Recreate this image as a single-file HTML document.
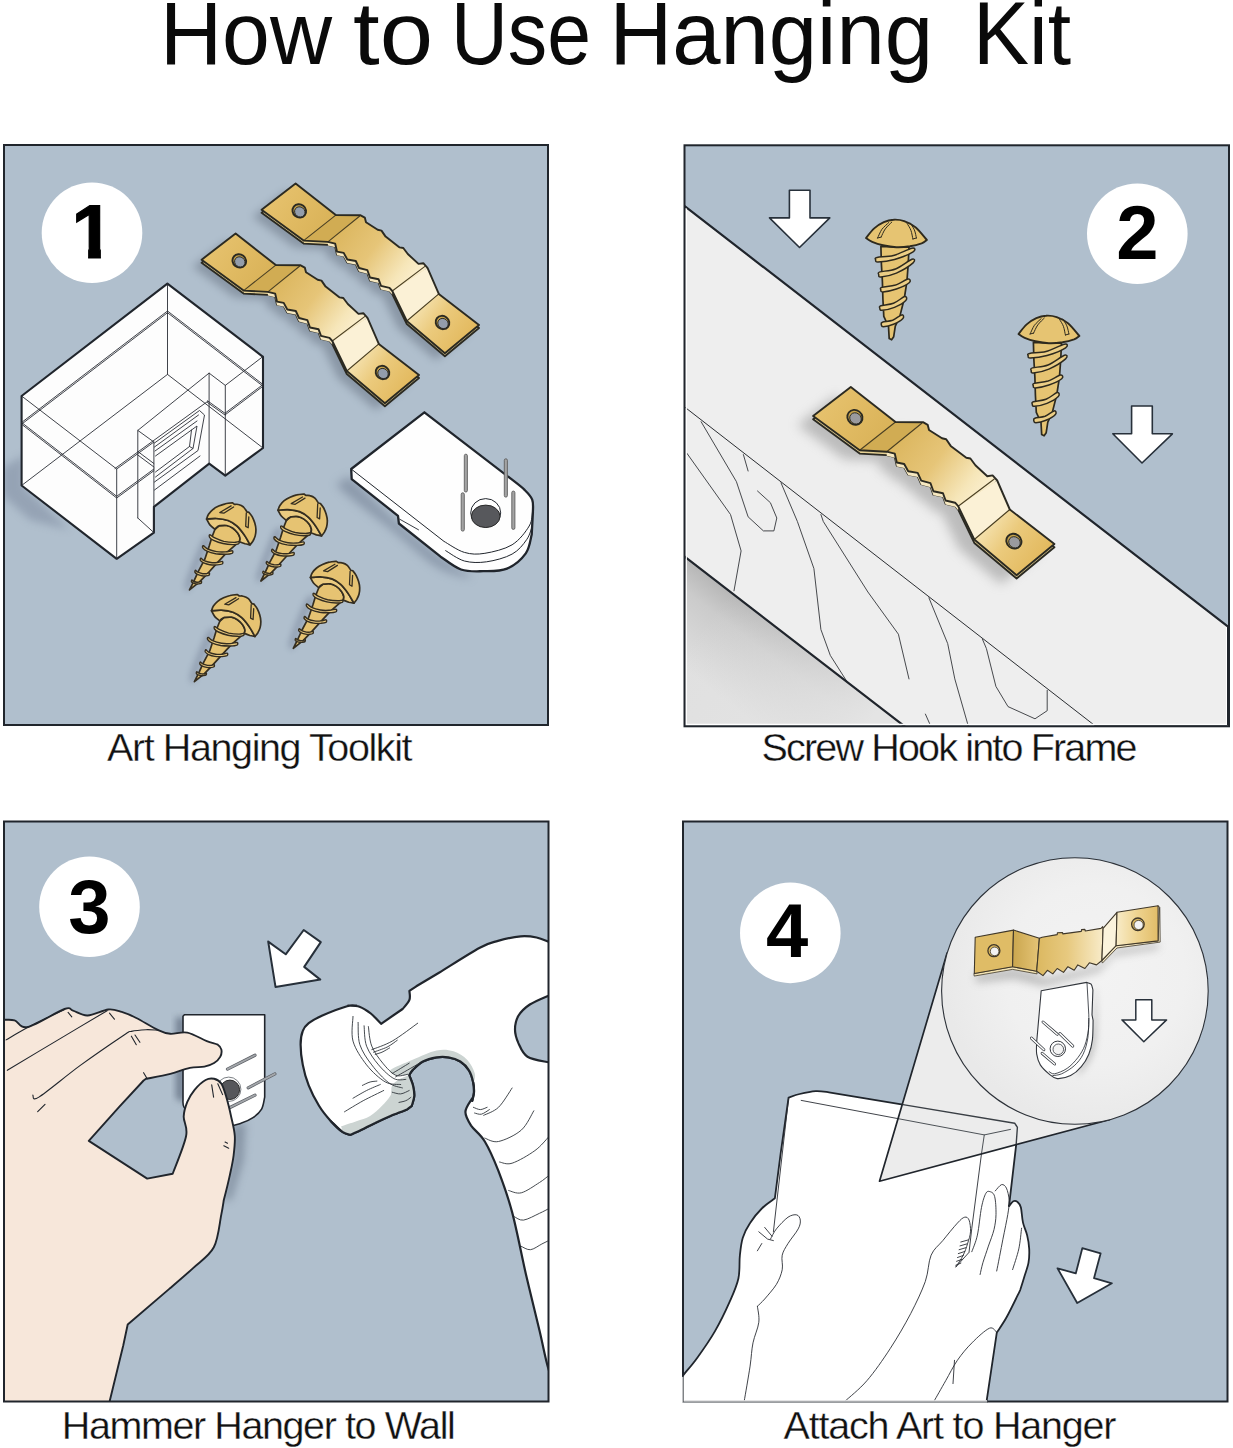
<!DOCTYPE html>
<html lang="en">
<head>
<meta charset="utf-8">
<title>How to Use Hanging Kit</title>
<style>
html,body{margin:0;padding:0;background:#fff;}
body{width:1233px;height:1448px;overflow:hidden;position:relative;font-family:"Liberation Sans",sans-serif;}
svg{position:absolute;left:0;top:0;display:block;}
text{font-family:"Liberation Sans",sans-serif;}
.ttl{font-size:88.5px;fill:#0a0a0a;}
.cap{font-size:39.5px;fill:#111;stroke:#fff;stroke-width:0.35px;}
.num{font-size:76px;font-weight:700;fill:#000;text-anchor:middle;}
.ol{stroke:#22272e;stroke-linejoin:round;stroke-linecap:round;}
</style>
</head>
<body>
<svg width="1233" height="1448" viewBox="0 0 1233 1448">
<defs>
<filter id="blur2" x="-50%" y="-50%" width="200%" height="200%"><feGaussianBlur stdDeviation="2"/></filter><filter id="blur3" x="-50%" y="-50%" width="200%" height="200%"><feGaussianBlur stdDeviation="3"/></filter><filter id="blur4" x="-50%" y="-50%" width="200%" height="200%"><feGaussianBlur stdDeviation="4"/></filter><filter id="blur5" x="-50%" y="-50%" width="200%" height="200%"><feGaussianBlur stdDeviation="5"/></filter><filter id="blur6" x="-50%" y="-50%" width="200%" height="200%"><feGaussianBlur stdDeviation="6"/></filter><filter id="blur8" x="-50%" y="-50%" width="200%" height="200%"><feGaussianBlur stdDeviation="8"/></filter><filter id="blur10" x="-50%" y="-50%" width="200%" height="200%"><feGaussianBlur stdDeviation="10"/></filter>
<linearGradient id="h_tl" gradientUnits="userSpaceOnUse" x1="270" y1="195" x2="325" y2="235"><stop offset="0" stop-color="#e6c26e"/><stop offset="0.5" stop-color="#e0ba62"/><stop offset="1" stop-color="#d9b258"/></linearGradient>
<linearGradient id="h_bd" gradientUnits="userSpaceOnUse" x1="335" y1="225" x2="415" y2="285"><stop offset="0" stop-color="#dab45b"/><stop offset="0.45" stop-color="#e6c578"/><stop offset="0.8" stop-color="#f6e6b9"/><stop offset="1" stop-color="#fbf0d2"/></linearGradient>
<linearGradient id="h_tr" gradientUnits="userSpaceOnUse" x1="415" y1="300" x2="470" y2="340"><stop offset="0" stop-color="#f7e7ba"/><stop offset="0.45" stop-color="#ebca7c"/><stop offset="1" stop-color="#e2b85c"/></linearGradient>
<linearGradient id="hb_tl" gradientUnits="userSpaceOnUse" x1="210" y1="245" x2="265" y2="285"><stop offset="0" stop-color="#e6c26e"/><stop offset="0.5" stop-color="#e0ba62"/><stop offset="1" stop-color="#d9b258"/></linearGradient>
<linearGradient id="hb_bd" gradientUnits="userSpaceOnUse" x1="275" y1="275" x2="355" y2="335"><stop offset="0" stop-color="#dab45b"/><stop offset="0.45" stop-color="#e6c578"/><stop offset="0.8" stop-color="#f6e6b9"/><stop offset="1" stop-color="#fbf0d2"/></linearGradient>
<linearGradient id="hb_tr" gradientUnits="userSpaceOnUse" x1="355" y1="350" x2="410" y2="390"><stop offset="0" stop-color="#f7e7ba"/><stop offset="0.45" stop-color="#ebca7c"/><stop offset="1" stop-color="#e2b85c"/></linearGradient>
<linearGradient id="h2_tl" gradientUnits="userSpaceOnUse" x1="822.4" y1="399.7" x2="883.5" y2="444.1"><stop offset="0" stop-color="#e6c26e"/><stop offset="0.5" stop-color="#e0ba62"/><stop offset="1" stop-color="#d9b258"/></linearGradient>
<linearGradient id="h2_bd" gradientUnits="userSpaceOnUse" x1="894.6" y1="433" x2="983.4" y2="499.6"><stop offset="0" stop-color="#dab45b"/><stop offset="0.45" stop-color="#e6c578"/><stop offset="0.8" stop-color="#f6e6b9"/><stop offset="1" stop-color="#fbf0d2"/></linearGradient>
<linearGradient id="h2_tr" gradientUnits="userSpaceOnUse" x1="983.4" y1="516.2" x2="1044.4" y2="560.6"><stop offset="0" stop-color="#f7e7ba"/><stop offset="0.45" stop-color="#ebca7c"/><stop offset="1" stop-color="#e2b85c"/></linearGradient><linearGradient id="fr_g" gradientUnits="userSpaceOnUse" x1="800" y1="645" x2="745" y2="716"><stop offset="0" stop-color="#b6b6b6"/><stop offset="0.3" stop-color="#cbcbcb"/><stop offset="1" stop-color="#e0e0e0"/></linearGradient><linearGradient id="fr_g2" gradientUnits="userSpaceOnUse" x1="730" y1="592" x2="880" y2="708"><stop offset="0" stop-color="#e4e4e4" stop-opacity="0"/><stop offset="1" stop-color="#e4e4e4" stop-opacity="1"/></linearGradient>
<clipPath id="conecl"><path d="M879.5 1181.2 L947.1 953.1 L1074.9 991 L1109.3 1119.8Z" fill="none"/></clipPath>
<linearGradient id="h4a" gradientUnits="userSpaceOnUse" x1="1013.5" y1="0" x2="1038.5" y2="0"><stop offset="0" stop-color="#cba74f"/><stop offset="1" stop-color="#e4c375"/></linearGradient>
<linearGradient id="h4b" gradientUnits="userSpaceOnUse" x1="1038.5" y1="0" x2="1102.7" y2="0"><stop offset="0" stop-color="#dcb962"/><stop offset="0.45" stop-color="#e7c97f"/><stop offset="1" stop-color="#f8ebc8"/></linearGradient>
<linearGradient id="h4c" gradientUnits="userSpaceOnUse" x1="1117" y1="0" x2="1158.1" y2="0"><stop offset="0" stop-color="#f8ebc6"/><stop offset="0.5" stop-color="#eed38f"/><stop offset="1" stop-color="#e2bd68"/></linearGradient>
<radialGradient id="circ4" gradientUnits="userSpaceOnUse" cx="1095" cy="975" r="150"><stop offset="0" stop-color="#f3f3f3"/><stop offset="0.6" stop-color="#f0f0f0"/><stop offset="1" stop-color="#e9e9e9"/></radialGradient>
<clipPath id="one"><path d="M60 190 H100.9 V262 H88.1 V247 H60 Z"/></clipPath>
<clipPath id="c1"><rect x="4" y="145" width="544" height="580"/></clipPath>
<clipPath id="c2"><rect x="684.5" y="145" width="544" height="580.5"/></clipPath>
<clipPath id="c3"><rect x="4" y="821.5" width="544.5" height="580"/></clipPath>
<clipPath id="c4"><rect x="683" y="821.5" width="544.5" height="580"/></clipPath>
</defs>

<!-- TITLE -->
<g class="ttl">
<text y="63.8"><tspan x="160" textLength="172" lengthAdjust="spacingAndGlyphs">How</tspan> <tspan x="353" textLength="80" lengthAdjust="spacingAndGlyphs">to</tspan> <tspan x="451" textLength="140" lengthAdjust="spacingAndGlyphs">Use</tspan> <tspan x="609.5" textLength="323.5" lengthAdjust="spacingAndGlyphs">Hanging</tspan> <tspan x="973" textLength="98" lengthAdjust="spacingAndGlyphs">Kit</tspan></text>
</g>

<!-- PANEL 1 -->
<g id="p1">
<rect x="4" y="145" width="544" height="580" fill="#b0bfcd"/>
<g clip-path="url(#c1)" id="p1art">
<g filter="url(#blur4)" opacity="0.45"><path d="M192.6 266.7 L226.6 240.5 L266.8 272.1 L291.6 272.3 L295.8 274.6 L297 279.3 L308.7 286.8 L312.5 287.6 L316.6 293.6 L330.6 304.4 L334.3 305 L338.8 311 L349.5 320.9 L354.3 320.2 L358.5 324.8 L369.8 350.9 L410 382 L375.9 410.2 L337.8 378 L323.3 348 L320.5 344.8 L312 342.8 L309.6 336.3 L301 334.5 L298.4 327.2 L290 325 L286.8 318 L278.3 316.5 L274.7 309.9 L268 308.6 L266.2 300.7 L258.9 298.9 L234.6 297.6Z" fill="#5b6676"/></g>
<path d="M201.6 262.7 L235.6 236.5 L275.8 268.1 L300.6 268.3 L304.8 270.6 L306 275.3 L317.7 282.8 L321.5 283.6 L325.6 289.6 L339.6 300.4 L343.3 301 L347.8 307 L358.5 316.9 L363.3 316.2 L367.5 320.8 L378.8 346.9 L419 378 L384.9 406.2 L346.8 374 L332.3 344 L329.5 340.8 L321 338.8 L318.6 332.3 L310 330.5 L307.4 323.2 L299 321 L295.8 314 L287.3 312.5 L283.7 305.9 L277 304.6 L275.2 296.7 L267.9 294.9 L243.6 293.6Z" fill="#e6d194" stroke="#2b2a22" stroke-width="1.9" stroke-linejoin="round" stroke-linecap="round"/>
<path d="M267.9 295.5 L275.2 297.3 L277 305.2 L283.7 306.5 L287.3 313.1 L295.8 314.6 L299 321.6 L307.4 323.8 L310 331.1 L318.6 332.9 L321 339.4 L329.5 341.4 L332.3 344.6 L332.3 340 L329.5 336.8 L321 334.8 L318.6 328.3 L310 326.5 L307.4 319.2 L299 317 L295.8 310 L287.3 308.5 L283.7 301.9 L277 300.6 L275.2 292.7 L267.9 290.9Z" fill="#f6e8c0"/>
<path d="M201.6 259.7 L235.6 233.5 L275.8 265.1 L243.6 290.6Z" fill="url(#hb_tl)"/>
<path d="M243.6 290.6 L275.8 265.1 L300.6 265.3 L267.9 291.9Z" fill="#d1ac53"/>
<path d="M267.9 291.9 L300.6 265.3 L304.8 267.6 L306 272.3 L317.7 279.8 L321.5 280.6 L325.6 286.6 L339.6 297.4 L343.3 298 L347.8 304 L358.5 313.9 L363.3 313.2 L367.5 317.8 L332.3 341 L329.5 337.8 L321 335.8 L318.6 329.3 L310 327.5 L307.4 320.2 L299 318 L295.8 311 L287.3 309.5 L283.7 302.9 L277 301.6 L275.2 293.7 L267.9 291.9Z" fill="url(#hb_bd)"/>
<path d="M332.3 341 L367.5 317.8 L378.8 343.9 L346.8 371Z" fill="#fbf1d6"/>
<path d="M346.8 371 L378.8 343.9 L419 375 L384.9 403.2Z" fill="url(#hb_tr)"/>
<path d="M275.8 265.1 L243.6 290.6" fill="none" stroke="#4a3f22" stroke-width="1.1" stroke-linejoin="round" stroke-linecap="round"/>
<path d="M299.5 266.2 L267.9 291.9" fill="none" stroke="#4a3f22" stroke-width="1.1" stroke-linejoin="round" stroke-linecap="round"/>
<path d="M364.6 316.6 L332.3 341" fill="none" stroke="#4a3f22" stroke-width="1.1" stroke-linejoin="round" stroke-linecap="round"/>
<path d="M378.8 343.9 L346.8 371" fill="none" stroke="#4a3f22" stroke-width="1.1" stroke-linejoin="round" stroke-linecap="round"/>
<path d="M201.6 259.7 L235.6 233.5 L275.8 265.1 L300.6 265.3 L304.8 267.6 L306 272.3 L317.7 279.8 L321.5 280.6 L325.6 286.6 L339.6 297.4 L343.3 298 L347.8 304 L358.5 313.9 L363.3 313.2 L367.5 317.8 L378.8 343.9 L419 375 L384.9 403.2 L346.8 371 L332.3 341 L329.5 337.8 L321 335.8 L318.6 329.3 L310 327.5 L307.4 320.2 L299 318 L295.8 311 L287.3 309.5 L283.7 302.9 L277 301.6 L275.2 293.7 L267.9 291.9 L243.6 290.6Z" fill="none" stroke="#2b2a22" stroke-width="1.9" stroke-linejoin="round" stroke-linecap="round"/>
<ellipse cx="239.3" cy="260.9" rx="7" ry="6.5" fill="#c7a34b" stroke="#2b2a22" stroke-width="1.9" transform="rotate(38 239.3 260.9)"/>
<ellipse cx="239.8" cy="261.9" rx="5.4" ry="4.9" fill="#939dab" stroke="#2b2a22" stroke-width="0.9" transform="rotate(38 239.8 261.9)"/>
<ellipse cx="382.5" cy="372.5" rx="7" ry="6.5" fill="#c7a34b" stroke="#2b2a22" stroke-width="1.9" transform="rotate(38 382.5 372.5)"/>
<ellipse cx="383" cy="373.5" rx="5.4" ry="4.9" fill="#939dab" stroke="#2b2a22" stroke-width="0.9" transform="rotate(38 383 373.5)"/>
<g filter="url(#blur4)" opacity="0.45"><path d="M252.6 216.7 L286.6 190.5 L326.8 222.1 L351.6 222.3 L355.8 224.6 L357 229.3 L368.7 236.8 L372.5 237.6 L376.6 243.6 L390.6 254.4 L394.3 255 L398.8 261 L409.5 270.9 L414.3 270.2 L418.5 274.8 L429.8 300.9 L470 332 L435.9 360.2 L397.8 328 L383.3 298 L380.5 294.8 L372 292.8 L369.6 286.3 L361 284.5 L358.4 277.2 L350 275 L346.8 268 L338.3 266.5 L334.7 259.9 L328 258.6 L326.2 250.7 L318.9 248.9 L294.6 247.6Z" fill="#5b6676"/></g>
<path d="M261.6 212.7 L295.6 186.5 L335.8 218.1 L360.6 218.3 L364.8 220.6 L366 225.3 L377.7 232.8 L381.5 233.6 L385.6 239.6 L399.6 250.4 L403.3 251 L407.8 257 L418.5 266.9 L423.3 266.2 L427.5 270.8 L438.8 296.9 L479 328 L444.9 356.2 L406.8 324 L392.3 294 L389.5 290.8 L381 288.8 L378.6 282.3 L370 280.5 L367.4 273.2 L359 271 L355.8 264 L347.3 262.5 L343.7 255.9 L337 254.6 L335.2 246.7 L327.9 244.9 L303.6 243.6Z" fill="#e6d194" stroke="#2b2a22" stroke-width="1.9" stroke-linejoin="round" stroke-linecap="round"/>
<path d="M327.9 245.5 L335.2 247.3 L337 255.2 L343.7 256.5 L347.3 263.1 L355.8 264.6 L359 271.6 L367.4 273.8 L370 281.1 L378.6 282.9 L381 289.4 L389.5 291.4 L392.3 294.6 L392.3 290 L389.5 286.8 L381 284.8 L378.6 278.3 L370 276.5 L367.4 269.2 L359 267 L355.8 260 L347.3 258.5 L343.7 251.9 L337 250.6 L335.2 242.7 L327.9 240.9Z" fill="#f6e8c0"/>
<path d="M261.6 209.7 L295.6 183.5 L335.8 215.1 L303.6 240.6Z" fill="url(#h_tl)"/>
<path d="M303.6 240.6 L335.8 215.1 L360.6 215.3 L327.9 241.9Z" fill="#d1ac53"/>
<path d="M327.9 241.9 L360.6 215.3 L364.8 217.6 L366 222.3 L377.7 229.8 L381.5 230.6 L385.6 236.6 L399.6 247.4 L403.3 248 L407.8 254 L418.5 263.9 L423.3 263.2 L427.5 267.8 L392.3 291 L389.5 287.8 L381 285.8 L378.6 279.3 L370 277.5 L367.4 270.2 L359 268 L355.8 261 L347.3 259.5 L343.7 252.9 L337 251.6 L335.2 243.7 L327.9 241.9Z" fill="url(#h_bd)"/>
<path d="M392.3 291 L427.5 267.8 L438.8 293.9 L406.8 321Z" fill="#fbf1d6"/>
<path d="M406.8 321 L438.8 293.9 L479 325 L444.9 353.2Z" fill="url(#h_tr)"/>
<path d="M335.8 215.1 L303.6 240.6" fill="none" stroke="#4a3f22" stroke-width="1.1" stroke-linejoin="round" stroke-linecap="round"/>
<path d="M359.5 216.2 L327.9 241.9" fill="none" stroke="#4a3f22" stroke-width="1.1" stroke-linejoin="round" stroke-linecap="round"/>
<path d="M424.6 266.6 L392.3 291" fill="none" stroke="#4a3f22" stroke-width="1.1" stroke-linejoin="round" stroke-linecap="round"/>
<path d="M438.8 293.9 L406.8 321" fill="none" stroke="#4a3f22" stroke-width="1.1" stroke-linejoin="round" stroke-linecap="round"/>
<path d="M261.6 209.7 L295.6 183.5 L335.8 215.1 L360.6 215.3 L364.8 217.6 L366 222.3 L377.7 229.8 L381.5 230.6 L385.6 236.6 L399.6 247.4 L403.3 248 L407.8 254 L418.5 263.9 L423.3 263.2 L427.5 267.8 L438.8 293.9 L479 325 L444.9 353.2 L406.8 321 L392.3 291 L389.5 287.8 L381 285.8 L378.6 279.3 L370 277.5 L367.4 270.2 L359 268 L355.8 261 L347.3 259.5 L343.7 252.9 L337 251.6 L335.2 243.7 L327.9 241.9 L303.6 240.6Z" fill="none" stroke="#2b2a22" stroke-width="1.9" stroke-linejoin="round" stroke-linecap="round"/>
<ellipse cx="299.3" cy="210.9" rx="7" ry="6.5" fill="#c7a34b" stroke="#2b2a22" stroke-width="1.9" transform="rotate(38 299.3 210.9)"/>
<ellipse cx="299.8" cy="211.9" rx="5.4" ry="4.9" fill="#939dab" stroke="#2b2a22" stroke-width="0.9" transform="rotate(38 299.8 211.9)"/>
<ellipse cx="442.5" cy="322.5" rx="7" ry="6.5" fill="#c7a34b" stroke="#2b2a22" stroke-width="1.9" transform="rotate(38 442.5 322.5)"/>
<ellipse cx="443" cy="323.5" rx="5.4" ry="4.9" fill="#939dab" stroke="#2b2a22" stroke-width="0.9" transform="rotate(38 443 323.5)"/>
<g filter="url(#blur4)" opacity="0.36"><path d="M24 455 L2 468 L2 495 L30 520 L70 530 L24 487Z" fill="#66728a"/></g>
<path d="M167.4 283.6 L263 356.8 L263 448 L225.3 475.6 L209.2 463.7 L153.9 506.8 L153.9 532.6 L116.7 558.8 L21.6 485.5 L21.6 396Z" fill="#fdfdfd" stroke="#20252c" stroke-width="2.1" stroke-linejoin="round" stroke-linecap="round"/>
<path d="M21.6 396 L116.7 469 L116.7 558.8 M116.7 469 L153.9 442 M137.8 430.4 L153.9 442 L153.9 532.6 M137.8 518 L137.8 430.4 L209.1 373.1 L225.3 385.4 L225.3 475.6 M137.8 518 L153.9 532.6 M209.1 373.1 L209.1 463.9 M225.3 385.4 L263 356.5 M167.5 283.6 L167.5 374.4 M21.6 485.5 L167.5 374.4 L263 448 M21.6 422.5 L167.5 311 L263 384.5 M21.6 422.5 L116.7 496.3 L153.9 469 M225.3 413 L263 384.5 M207.5 400.8 L225.3 413.5 M21.6 424.2 L167.5 312.7 L263 386.2 M21.6 424.2 L116.7 498 L153.9 470.7 M225.3 414.7 L263 386.2 M207.5 402.5 L225.3 415.2 M115 468.5 L207.5 401.5 M137.8 451.5 L153.9 463.5 M137.8 455 L153.9 467 M154.5 443 L199.5 410.5 L204.5 415 L198 450.5 L154.5 482 M154.5 447 L198.5 415 M155 451 L197 421 M155.5 456 L191.5 430 L197 426 L193 448.5 L189.5 446.5 L191.5 430 M155.5 472 L189.5 446.5 M155.5 477 L193 448.5 M154.5 490 L200 456" fill="none" stroke="#2a2e35" stroke-width="0.9" stroke-linejoin="round" stroke-linecap="round"/>
<g filter="url(#blur5)" opacity="0.5"><path d="M345.2 480.1 C343.3 481.6 332.4 480.3 340.1 488.6 C347.8 496.8 375 516.4 391.2 529.4 C407.4 542.5 423.9 559 437.2 566.9 C450.5 574.9 470.7 578.8 471.3 577.1 C471.8 575.4 452.7 565.6 440.6 556.7 C428.5 547.8 413.7 536.4 398.9 523.5 C384.1 510.6 360.6 486.4 351.7 479.2 C342.7 472 347.2 478.5 345.2 480.1Z" fill="#67748a"/></g>
<path d="M351.2 469 L424.4 412.3 L510.4 478.4 C512.7 480.2 520.4 485.9 524.1 489.4 C527.7 493 530.8 495.8 532.2 499.6 C533.7 503.5 532.8 510.3 532.9 512.4 L531.7 534.6 C530.7 537.7 529.9 547.6 525.8 553.3 C521.7 559 514.1 565.6 507 568.6 C499.9 571.6 490.9 571 483.2 571.2 C475.5 571.3 468.1 571.9 461 569.5 C453.9 567.1 444 558.8 440.6 556.7 L398.9 523.5 L398 515.8 L351.7 479.2Z" fill="#fefefe" stroke="#20252c" stroke-width="2.3" stroke-linejoin="round" stroke-linecap="round"/>
<path d="M351.2 469 L444 541.4 C447.4 543.2 457.6 550.5 464.4 552.4 C471.3 554.4 476.9 554.6 484.9 553.3 C492.8 552 504.8 549.3 512.1 544.8 C519.5 540.2 525.8 531.7 529.2 526 C532.6 520.4 532 513.3 532.6 510.7" fill="none" stroke="#20252c" stroke-width="1" stroke-linejoin="round" stroke-linecap="round"/>
<path d="M445.7 550.7 C448.8 552.4 457.6 559.1 464.4 561 C471.3 562.8 478.6 562.9 486.6 561.8 C494.5 560.7 505.5 557.8 512.1 554.1 C518.8 550.5 523.3 544.4 526.6 539.7 C530 535 531.3 528.3 532.2 526" fill="none" stroke="#20252c" stroke-width="1" stroke-linejoin="round" stroke-linecap="round"/>
<path d="M399.7 519.2 L418.5 529.8" fill="none" stroke="#20252c" stroke-width="0.9" stroke-linejoin="round" stroke-linecap="round"/>
<ellipse cx="485.7" cy="512.9" rx="15" ry="14.3" fill="#fff" stroke="#20252c" stroke-width="1"/>
<ellipse cx="485.7" cy="516.3" rx="14.3" ry="11.2" fill="#57585c" stroke="#2a2a2a" stroke-width="1"/>
<rect x="464.3" y="454.2" width="3.1" height="37.8" rx="1.5" fill="#a4a4a4" stroke="#5f5f5f" stroke-width="0.9"/>
<rect x="461.2" y="492.8" width="3.1" height="38.3" rx="1.5" fill="#a4a4a4" stroke="#5f5f5f" stroke-width="0.9"/>
<rect x="504.3" y="458.8" width="3.1" height="38.3" rx="1.5" fill="#a4a4a4" stroke="#5f5f5f" stroke-width="0.9"/>
<rect x="511.8" y="491.1" width="3.1" height="38.3" rx="1.5" fill="#a4a4a4" stroke="#5f5f5f" stroke-width="0.9"/>
<g filter="url(#blur3)" opacity="0.45"><path d="M204.1 538.8 C201.8 541.2 199.2 547.9 196.8 553.4 C194.4 558.9 191.4 566.2 189.5 571.6 C187.5 577.1 185.2 583.1 185.1 586.2 C185 589.4 187.3 593.1 189.1 590.6 C190.9 588.2 193.6 577.8 196.1 571.6 C198.6 565.4 201.7 558.9 204.1 553.4 C206.5 547.9 210.7 541.2 210.7 538.8 C210.7 536.4 206.4 536.4 204.1 538.8Z" fill="#66728a"/></g>
<path d="M215 529.3 L219.4 525.7 C220.6 525.6 224.5 525.1 226.7 525.5 C228.9 525.9 230.7 526.8 232.6 528 C234.4 529.2 236.4 531.3 237.7 533 C238.9 534.6 239.6 537.2 240 538.1 L239.5 541.7 L238.4 542.4 L226.7 552.7 L217.2 562.9 L207 574.2 L199.3 582.2 L189.5 589.9 L193.9 581.1 L198.2 571.6 L204.8 559.2 L209.2 546.1 L212.1 536.6Z" fill="#e6c372" stroke="#352e20" stroke-width="1.7" stroke-linejoin="round" stroke-linecap="round"/>
<path d="M209.9 534.8 C210.7 534.8 212 536.6 214.3 537.7 C216.6 538.8 220.5 540.6 223.8 541.4 C227.1 542.1 231.5 542.4 234 542.4 C236.5 542.5 238 541.5 238.8 541.7 C239.5 542 239.4 543.4 238.4 543.9 C237.4 544.4 235.1 544.7 232.6 544.6 C230 544.6 226.2 544.3 223.1 543.5 C219.9 542.8 215.8 541.3 213.6 540.3 C211.3 539.2 210.2 538.2 209.6 537.3 C209 536.4 209.1 534.7 209.9 534.8Z" fill="#ebcb80" stroke="#352e20" stroke-width="1.4" stroke-linejoin="round" stroke-linecap="round"/>
<path d="M203.4 545.7 C204.2 545.9 205.5 548 207.7 549 C209.9 550 213.6 551.1 216.5 551.6 C219.4 552.1 222.6 552.1 225.3 551.9 C227.9 551.8 231.1 550.6 232.2 550.8 C233.3 551.1 233.1 552.8 232 553.4 C230.8 554 228 554.2 225.3 554.3 C222.6 554.3 218.8 554.3 215.8 553.8 C212.7 553.2 209.2 552.2 207 551.2 C204.8 550.2 203.4 548.8 202.8 547.9 C202.2 547 202.5 545.5 203.4 545.7Z" fill="#ebcb80" stroke="#352e20" stroke-width="1.4" stroke-linejoin="round" stroke-linecap="round"/>
<path d="M201 558.1 C201.6 558.2 202.5 560 204.1 560.7 C205.7 561.4 208.5 562.2 210.7 562.5 C212.8 562.8 215.3 562.7 217.2 562.5 C219.2 562.3 221.5 561.2 222.3 561.4 C223.2 561.7 223 563.4 222.1 564 C221.3 564.5 219.3 564.7 217.2 564.9 C215.2 565 212.2 565 209.9 564.7 C207.7 564.4 205.3 563.6 203.7 562.9 C202.1 562.2 200.9 561.1 200.4 560.3 C200 559.5 200.4 558.1 201 558.1Z" fill="#ebcb80" stroke="#352e20" stroke-width="1.4" stroke-linejoin="round" stroke-linecap="round"/>
<path d="M195.5 570.3 C196 570.3 196.7 571.7 197.9 572.2 C199.1 572.8 201.2 573.4 202.6 573.7 C204.1 573.9 205.5 573.8 206.6 573.7 C207.8 573.6 208.9 572.7 209.3 573 C209.7 573.2 209.6 574.7 209.1 575.1 C208.5 575.6 207.1 575.8 205.9 575.9 C204.7 576 203.3 576 201.9 575.7 C200.5 575.5 198.7 575 197.5 574.4 C196.4 573.9 195.3 573.1 195 572.4 C194.6 571.7 195 570.4 195.5 570.3Z" fill="#ebcb80" stroke="#352e20" stroke-width="1.4" stroke-linejoin="round" stroke-linecap="round"/>
<path d="M191.9 580 C192.3 580 193.1 581.1 193.9 581.5 C194.7 581.9 195.9 582.1 196.8 582.2 C197.7 582.3 198.6 582.2 199.3 582.1 C200.1 581.9 201.1 581.1 201.4 581.3 C201.7 581.5 201.6 582.7 201.2 583.2 C200.7 583.6 199.5 583.8 198.6 583.9 C197.8 584 196.9 584 196.1 583.9 C195.2 583.8 194.3 583.5 193.5 583.2 C192.7 582.8 191.8 582.4 191.5 581.9 C191.3 581.3 191.5 580.1 191.9 580Z" fill="#ebcb80" stroke="#352e20" stroke-width="1.4" stroke-linejoin="round" stroke-linecap="round"/>
<path d="M206.6 519.1 C208.3 519 212.9 518.3 216.5 518.5 C220.1 518.7 224.8 519.3 228.2 520.5 C231.6 521.8 234.3 523.6 236.9 526 C239.6 528.4 242 531.7 244.2 534.8 C246.4 537.9 249.1 543.1 250.1 544.8 C249.2 544.6 246.7 544.3 245 543.8 C243.2 543.2 240.4 542.1 239.5 541.7 C239.6 541.1 240.3 539.5 240 538.1 C239.7 536.6 238.9 534.6 237.7 533 C236.4 531.3 234.4 529.2 232.6 528 C230.7 526.8 228.9 525.9 226.7 525.5 C224.5 525.1 220.6 525.6 219.4 525.7 C219 525.9 217.6 526.5 216.9 527.1 C216.1 527.7 215.3 528.9 215 529.3 C214.2 528.6 211.3 526.6 209.9 524.9 C208.5 523.2 207.2 520.1 206.6 519.1Z" fill="#ebcb80" stroke="#352e20" stroke-width="1.7" stroke-linejoin="round" stroke-linecap="round"/>
<path d="M206.6 519.1 C206.9 518.3 207.4 515.9 208.5 514.3 C209.5 512.8 211.1 511 212.8 509.6 C214.5 508.2 216.6 507.1 218.7 506.1 C220.8 505.1 222.9 504.3 225.3 503.8 C227.6 503.2 231.3 503 232.6 502.9 L234.4 504.3 C235 504.4 236.9 504 238.4 504.5 C239.9 504.9 242.1 505.8 243.5 507 C244.9 508.3 246.4 511.1 247 511.9 L249 512.4 C249.5 513.1 251.3 515.1 252.3 516.9 C253.2 518.7 254.2 521 254.8 523.1 C255.4 525.2 255.9 527.2 255.9 529.3 C256 531.4 255.7 533.9 255.2 535.9 C254.7 537.8 253.8 539.5 253 541 C252.1 542.5 250.6 544.1 250.1 544.8 C249.1 543.1 246.4 537.9 244.2 534.8 C242 531.7 239.6 528.4 236.9 526 C234.3 523.6 231.6 521.8 228.2 520.5 C224.8 519.3 220.1 518.7 216.5 518.5 C212.9 518.3 208.3 519 206.6 519.1Z" fill="#e6c372" stroke="#352e20" stroke-width="1.7" stroke-linejoin="round" stroke-linecap="round"/>
<path d="M231.1 505.9 L219.8 512.5 L223.8 513.2 L233.6 507" fill="none" stroke="#352e20" stroke-width="1.3" stroke-linejoin="round" stroke-linecap="round"/>
<path d="M246.3 512.9 L245.7 526.4 L248.2 527.8 L248.8 516.9" fill="none" stroke="#352e20" stroke-width="1.3" stroke-linejoin="round" stroke-linecap="round"/>
<g filter="url(#blur3)" opacity="0.45"><path d="M275.5 529.9 C273.2 532.3 270.6 539 268.2 544.5 C265.8 550 262.8 557.3 260.9 562.7 C258.9 568.2 256.6 574.2 256.5 577.3 C256.4 580.5 258.7 584.2 260.5 581.7 C262.3 579.3 265 568.9 267.5 562.7 C270 556.5 273.1 550 275.5 544.5 C277.9 539 282.1 532.3 282.1 529.9 C282.1 527.5 277.8 527.5 275.5 529.9Z" fill="#66728a"/></g>
<path d="M286.4 520.4 L290.8 516.8 C292 516.7 295.9 516.2 298.1 516.6 C300.3 517 302.1 517.9 304 519.1 C305.8 520.3 307.8 522.4 309.1 524.1 C310.3 525.7 311 528.3 311.4 529.2 L310.9 532.8 L309.8 533.5 L298.1 543.8 L288.6 554 L278.4 565.3 L270.7 573.3 L260.9 581 L265.3 572.2 L269.6 562.7 L276.2 550.3 L280.6 537.2 L283.5 527.7Z" fill="#e6c372" stroke="#352e20" stroke-width="1.7" stroke-linejoin="round" stroke-linecap="round"/>
<path d="M281.3 525.9 C282.1 525.9 283.4 527.7 285.7 528.8 C288 529.9 291.9 531.7 295.2 532.5 C298.5 533.2 302.9 533.5 305.4 533.5 C307.9 533.6 309.4 532.6 310.2 532.8 C310.9 533.1 310.8 534.5 309.8 535 C308.8 535.5 306.5 535.8 304 535.7 C301.4 535.7 297.6 535.4 294.5 534.6 C291.3 533.9 287.2 532.4 285 531.4 C282.7 530.3 281.6 529.3 281 528.4 C280.4 527.5 280.5 525.8 281.3 525.9Z" fill="#ebcb80" stroke="#352e20" stroke-width="1.4" stroke-linejoin="round" stroke-linecap="round"/>
<path d="M274.8 536.8 C275.6 537 276.9 539.1 279.1 540.1 C281.3 541.1 285 542.2 287.9 542.7 C290.8 543.2 294 543.2 296.7 543 C299.3 542.9 302.5 541.7 303.6 541.9 C304.7 542.2 304.5 543.9 303.4 544.5 C302.2 545.1 299.4 545.3 296.7 545.4 C294 545.4 290.2 545.4 287.2 544.9 C284.1 544.3 280.6 543.3 278.4 542.3 C276.2 541.3 274.8 539.9 274.2 539 C273.6 538.1 273.9 536.6 274.8 536.8Z" fill="#ebcb80" stroke="#352e20" stroke-width="1.4" stroke-linejoin="round" stroke-linecap="round"/>
<path d="M272.4 549.2 C273 549.3 273.9 551.1 275.5 551.8 C277.1 552.5 279.9 553.3 282.1 553.6 C284.2 553.9 286.7 553.8 288.6 553.6 C290.6 553.4 292.9 552.3 293.7 552.5 C294.6 552.8 294.4 554.5 293.5 555.1 C292.7 555.6 290.7 555.8 288.6 556 C286.6 556.1 283.6 556.1 281.3 555.8 C279.1 555.5 276.7 554.7 275.1 554 C273.5 553.3 272.3 552.2 271.8 551.4 C271.4 550.6 271.8 549.2 272.4 549.2Z" fill="#ebcb80" stroke="#352e20" stroke-width="1.4" stroke-linejoin="round" stroke-linecap="round"/>
<path d="M266.9 561.4 C267.4 561.4 268.1 562.8 269.3 563.3 C270.5 563.9 272.6 564.5 274 564.8 C275.5 565 276.9 564.9 278 564.8 C279.2 564.7 280.3 563.8 280.7 564.1 C281.1 564.3 281 565.8 280.5 566.2 C279.9 566.7 278.5 566.9 277.3 567 C276.1 567.1 274.7 567.1 273.3 566.8 C271.9 566.6 270.1 566.1 268.9 565.5 C267.8 565 266.7 564.2 266.4 563.5 C266 562.8 266.4 561.5 266.9 561.4Z" fill="#ebcb80" stroke="#352e20" stroke-width="1.4" stroke-linejoin="round" stroke-linecap="round"/>
<path d="M263.3 571.1 C263.7 571.1 264.5 572.2 265.3 572.6 C266.1 573 267.3 573.2 268.2 573.3 C269.1 573.4 270 573.3 270.7 573.2 C271.5 573 272.5 572.2 272.8 572.4 C273.1 572.6 273 573.8 272.6 574.3 C272.1 574.7 270.9 574.9 270 575 C269.2 575.1 268.3 575.1 267.5 575 C266.6 574.9 265.7 574.6 264.9 574.3 C264.1 573.9 263.2 573.5 262.9 573 C262.7 572.4 262.9 571.2 263.3 571.1Z" fill="#ebcb80" stroke="#352e20" stroke-width="1.4" stroke-linejoin="round" stroke-linecap="round"/>
<path d="M278 510.2 C279.7 510.1 284.3 509.4 287.9 509.6 C291.5 509.8 296.2 510.4 299.6 511.6 C303 512.9 305.7 514.7 308.3 517.1 C311 519.5 313.4 522.8 315.6 525.9 C317.8 529 320.5 534.2 321.5 535.9 C320.6 535.7 318.1 535.4 316.4 534.9 C314.6 534.3 311.8 533.2 310.9 532.8 C311 532.2 311.7 530.6 311.4 529.2 C311.1 527.7 310.3 525.7 309.1 524.1 C307.8 522.4 305.8 520.3 304 519.1 C302.1 517.9 300.3 517 298.1 516.6 C295.9 516.2 292 516.7 290.8 516.8 C290.4 517 289 517.6 288.3 518.2 C287.5 518.8 286.7 520 286.4 520.4 C285.6 519.7 282.7 517.7 281.3 516 C279.9 514.3 278.6 511.2 278 510.2Z" fill="#ebcb80" stroke="#352e20" stroke-width="1.7" stroke-linejoin="round" stroke-linecap="round"/>
<path d="M278 510.2 C278.3 509.4 278.8 507 279.9 505.4 C280.9 503.9 282.5 502.1 284.2 500.7 C285.9 499.3 288 498.2 290.1 497.2 C292.2 496.2 294.3 495.4 296.7 494.9 C299 494.3 302.7 494.1 304 494 L305.8 495.4 C306.4 495.5 308.3 495.1 309.8 495.6 C311.3 496 313.5 496.9 314.9 498.1 C316.3 499.4 317.8 502.2 318.4 503 L320.4 503.5 C320.9 504.2 322.7 506.2 323.7 508 C324.6 509.8 325.6 512.1 326.2 514.2 C326.8 516.3 327.3 518.3 327.3 520.4 C327.4 522.5 327.1 525 326.6 527 C326.1 528.9 325.2 530.6 324.4 532.1 C323.5 533.6 322 535.2 321.5 535.9 C320.5 534.2 317.8 529 315.6 525.9 C313.4 522.8 311 519.5 308.3 517.1 C305.7 514.7 303 512.9 299.6 511.6 C296.2 510.4 291.5 509.8 287.9 509.6 C284.3 509.4 279.7 510.1 278 510.2Z" fill="#e6c372" stroke="#352e20" stroke-width="1.7" stroke-linejoin="round" stroke-linecap="round"/>
<path d="M302.5 497 L291.2 503.6 L295.2 504.3 L305 498.1" fill="none" stroke="#352e20" stroke-width="1.3" stroke-linejoin="round" stroke-linecap="round"/>
<path d="M317.7 504 L317.1 517.5 L319.6 518.9 L320.2 508" fill="none" stroke="#352e20" stroke-width="1.3" stroke-linejoin="round" stroke-linecap="round"/>
<g filter="url(#blur3)" opacity="0.45"><path d="M307.9 597.2 C305.6 599.6 303 606.3 300.6 611.8 C298.2 617.3 295.2 624.6 293.3 630 C291.3 635.5 289 641.5 288.9 644.6 C288.8 647.8 291.1 651.5 292.9 649 C294.7 646.6 297.4 636.2 299.9 630 C302.4 623.8 305.5 617.3 307.9 611.8 C310.3 606.3 314.5 599.6 314.5 597.2 C314.5 594.8 310.2 594.8 307.9 597.2Z" fill="#66728a"/></g>
<path d="M318.8 587.7 L323.2 584.1 C324.4 584 328.3 583.5 330.5 583.9 C332.7 584.3 334.5 585.2 336.4 586.4 C338.2 587.6 340.2 589.7 341.5 591.4 C342.7 593 343.4 595.6 343.8 596.5 L343.3 600.1 L342.2 600.8 L330.5 611.1 L321 621.3 L310.8 632.6 L303.1 640.6 L293.3 648.3 L297.7 639.5 L302 630 L308.6 617.6 L313 604.5 L315.9 595Z" fill="#e6c372" stroke="#352e20" stroke-width="1.7" stroke-linejoin="round" stroke-linecap="round"/>
<path d="M313.7 593.2 C314.5 593.2 315.8 595 318.1 596.1 C320.4 597.2 324.3 599 327.6 599.8 C330.9 600.5 335.3 600.8 337.8 600.8 C340.3 600.9 341.8 599.9 342.6 600.1 C343.3 600.4 343.2 601.8 342.2 602.3 C341.2 602.8 338.9 603.1 336.4 603 C333.8 603 330 602.7 326.9 601.9 C323.7 601.2 319.6 599.7 317.4 598.7 C315.1 597.6 314 596.6 313.4 595.7 C312.8 594.8 312.9 593.1 313.7 593.2Z" fill="#ebcb80" stroke="#352e20" stroke-width="1.4" stroke-linejoin="round" stroke-linecap="round"/>
<path d="M307.2 604.1 C308 604.3 309.3 606.4 311.5 607.4 C313.7 608.4 317.4 609.5 320.3 610 C323.2 610.5 326.4 610.5 329.1 610.3 C331.7 610.2 334.9 609 336 609.2 C337.1 609.5 336.9 611.2 335.8 611.8 C334.6 612.4 331.8 612.6 329.1 612.7 C326.4 612.7 322.6 612.7 319.6 612.2 C316.5 611.6 313 610.6 310.8 609.6 C308.6 608.6 307.2 607.2 306.6 606.3 C306 605.4 306.3 603.9 307.2 604.1Z" fill="#ebcb80" stroke="#352e20" stroke-width="1.4" stroke-linejoin="round" stroke-linecap="round"/>
<path d="M304.8 616.5 C305.4 616.6 306.3 618.4 307.9 619.1 C309.5 619.8 312.3 620.6 314.5 620.9 C316.6 621.2 319.1 621.1 321 620.9 C323 620.7 325.3 619.6 326.1 619.8 C327 620.1 326.8 621.8 325.9 622.4 C325.1 622.9 323.1 623.1 321 623.3 C319 623.4 316 623.4 313.7 623.1 C311.5 622.8 309.1 622 307.5 621.3 C305.9 620.6 304.7 619.5 304.2 618.7 C303.8 617.9 304.2 616.5 304.8 616.5Z" fill="#ebcb80" stroke="#352e20" stroke-width="1.4" stroke-linejoin="round" stroke-linecap="round"/>
<path d="M299.3 628.7 C299.8 628.7 300.5 630.1 301.7 630.6 C302.9 631.2 305 631.8 306.4 632.1 C307.9 632.3 309.3 632.2 310.4 632.1 C311.6 632 312.7 631.1 313.1 631.4 C313.5 631.6 313.4 633.1 312.9 633.5 C312.3 634 310.9 634.2 309.7 634.3 C308.5 634.4 307.1 634.4 305.7 634.1 C304.3 633.9 302.5 633.4 301.3 632.8 C300.2 632.3 299.1 631.5 298.8 630.8 C298.4 630.1 298.8 628.8 299.3 628.7Z" fill="#ebcb80" stroke="#352e20" stroke-width="1.4" stroke-linejoin="round" stroke-linecap="round"/>
<path d="M295.7 638.4 C296.1 638.4 296.9 639.5 297.7 639.9 C298.5 640.3 299.7 640.5 300.6 640.6 C301.5 640.7 302.4 640.6 303.1 640.5 C303.9 640.3 304.9 639.5 305.2 639.7 C305.5 639.9 305.4 641.1 305 641.6 C304.5 642 303.3 642.2 302.4 642.3 C301.6 642.4 300.7 642.4 299.9 642.3 C299 642.2 298.1 641.9 297.3 641.6 C296.5 641.2 295.6 640.8 295.3 640.3 C295.1 639.7 295.3 638.5 295.7 638.4Z" fill="#ebcb80" stroke="#352e20" stroke-width="1.4" stroke-linejoin="round" stroke-linecap="round"/>
<path d="M310.4 577.5 C312.1 577.4 316.7 576.7 320.3 576.9 C323.9 577.1 328.6 577.7 332 578.9 C335.4 580.2 338.1 582 340.7 584.4 C343.4 586.8 345.8 590.1 348 593.2 C350.2 596.3 352.9 601.5 353.9 603.2 C353 603 350.5 602.7 348.8 602.2 C347 601.6 344.2 600.5 343.3 600.1 C343.4 599.5 344.1 597.9 343.8 596.5 C343.5 595 342.7 593 341.5 591.4 C340.2 589.7 338.2 587.6 336.4 586.4 C334.5 585.2 332.7 584.3 330.5 583.9 C328.3 583.5 324.4 584 323.2 584.1 C322.8 584.3 321.4 584.9 320.7 585.5 C319.9 586.1 319.1 587.3 318.8 587.7 C318 587 315.1 585 313.7 583.3 C312.3 581.6 311 578.5 310.4 577.5Z" fill="#ebcb80" stroke="#352e20" stroke-width="1.7" stroke-linejoin="round" stroke-linecap="round"/>
<path d="M310.4 577.5 C310.7 576.7 311.2 574.3 312.3 572.7 C313.3 571.2 314.9 569.4 316.6 568 C318.3 566.6 320.4 565.5 322.5 564.5 C324.6 563.5 326.7 562.7 329.1 562.2 C331.4 561.6 335.1 561.4 336.4 561.3 L338.2 562.7 C338.8 562.8 340.7 562.4 342.2 562.9 C343.7 563.3 345.9 564.2 347.3 565.4 C348.7 566.7 350.2 569.5 350.8 570.3 L352.8 570.8 C353.3 571.5 355.1 573.5 356.1 575.3 C357 577.1 358 579.4 358.6 581.5 C359.2 583.6 359.7 585.6 359.7 587.7 C359.8 589.8 359.5 592.3 359 594.3 C358.5 596.2 357.6 597.9 356.8 599.4 C355.9 600.9 354.4 602.5 353.9 603.2 C352.9 601.5 350.2 596.3 348 593.2 C345.8 590.1 343.4 586.8 340.7 584.4 C338.1 582 335.4 580.2 332 578.9 C328.6 577.7 323.9 577.1 320.3 576.9 C316.7 576.7 312.1 577.4 310.4 577.5Z" fill="#e6c372" stroke="#352e20" stroke-width="1.7" stroke-linejoin="round" stroke-linecap="round"/>
<path d="M334.9 564.3 L323.6 570.9 L327.6 571.6 L337.4 565.4" fill="none" stroke="#352e20" stroke-width="1.3" stroke-linejoin="round" stroke-linecap="round"/>
<path d="M350.1 571.3 L349.5 584.8 L352 586.2 L352.6 575.3" fill="none" stroke="#352e20" stroke-width="1.3" stroke-linejoin="round" stroke-linecap="round"/>
<g filter="url(#blur3)" opacity="0.45"><path d="M209 630.5 C206.7 632.9 204.1 639.6 201.7 645.1 C199.3 650.6 196.3 657.9 194.4 663.3 C192.4 668.8 190.1 674.8 190 677.9 C189.9 681.1 192.2 684.8 194 682.3 C195.8 679.9 198.5 669.5 201 663.3 C203.5 657.1 206.6 650.6 209 645.1 C211.4 639.6 215.6 632.9 215.6 630.5 C215.6 628.1 211.3 628.1 209 630.5Z" fill="#66728a"/></g>
<path d="M219.9 621 L224.3 617.4 C225.5 617.3 229.4 616.8 231.6 617.2 C233.8 617.6 235.6 618.5 237.5 619.7 C239.3 620.9 241.3 623 242.6 624.7 C243.8 626.3 244.5 628.9 244.9 629.8 L244.4 633.4 L243.3 634.1 L231.6 644.4 L222.1 654.6 L211.9 665.9 L204.2 673.9 L194.4 681.6 L198.8 672.8 L203.1 663.3 L209.7 650.9 L214.1 637.8 L217 628.3Z" fill="#e6c372" stroke="#352e20" stroke-width="1.7" stroke-linejoin="round" stroke-linecap="round"/>
<path d="M214.8 626.5 C215.6 626.5 216.9 628.3 219.2 629.4 C221.5 630.5 225.4 632.3 228.7 633.1 C232 633.8 236.4 634.1 238.9 634.1 C241.4 634.2 242.9 633.2 243.7 633.4 C244.4 633.7 244.3 635.1 243.3 635.6 C242.3 636.1 240 636.4 237.5 636.3 C234.9 636.3 231.1 636 228 635.2 C224.8 634.5 220.7 633 218.5 632 C216.2 630.9 215.1 629.9 214.5 629 C213.9 628.1 214 626.4 214.8 626.5Z" fill="#ebcb80" stroke="#352e20" stroke-width="1.4" stroke-linejoin="round" stroke-linecap="round"/>
<path d="M208.3 637.4 C209.1 637.6 210.4 639.7 212.6 640.7 C214.8 641.7 218.5 642.8 221.4 643.3 C224.3 643.8 227.5 643.8 230.2 643.6 C232.8 643.5 236 642.3 237.1 642.5 C238.2 642.8 238 644.5 236.9 645.1 C235.7 645.7 232.9 645.9 230.2 646 C227.5 646 223.7 646 220.7 645.5 C217.6 644.9 214.1 643.9 211.9 642.9 C209.7 641.9 208.3 640.5 207.7 639.6 C207.1 638.7 207.4 637.2 208.3 637.4Z" fill="#ebcb80" stroke="#352e20" stroke-width="1.4" stroke-linejoin="round" stroke-linecap="round"/>
<path d="M205.9 649.8 C206.5 649.9 207.4 651.7 209 652.4 C210.6 653.1 213.4 653.9 215.6 654.2 C217.7 654.5 220.2 654.4 222.1 654.2 C224.1 654 226.4 652.9 227.2 653.1 C228.1 653.4 227.9 655.1 227 655.7 C226.2 656.2 224.2 656.4 222.1 656.6 C220.1 656.7 217.1 656.7 214.8 656.4 C212.6 656.1 210.2 655.3 208.6 654.6 C207 653.9 205.8 652.8 205.3 652 C204.9 651.2 205.3 649.8 205.9 649.8Z" fill="#ebcb80" stroke="#352e20" stroke-width="1.4" stroke-linejoin="round" stroke-linecap="round"/>
<path d="M200.4 662 C200.9 662 201.6 663.4 202.8 663.9 C204 664.5 206.1 665.1 207.5 665.4 C209 665.6 210.4 665.5 211.5 665.4 C212.7 665.3 213.8 664.4 214.2 664.7 C214.6 664.9 214.5 666.4 214 666.8 C213.4 667.3 212 667.5 210.8 667.6 C209.6 667.7 208.2 667.7 206.8 667.4 C205.4 667.2 203.6 666.7 202.4 666.1 C201.3 665.6 200.2 664.8 199.9 664.1 C199.5 663.4 199.9 662.1 200.4 662Z" fill="#ebcb80" stroke="#352e20" stroke-width="1.4" stroke-linejoin="round" stroke-linecap="round"/>
<path d="M196.8 671.7 C197.2 671.7 198 672.8 198.8 673.2 C199.6 673.6 200.8 673.8 201.7 673.9 C202.6 674 203.5 673.9 204.2 673.8 C205 673.6 206 672.8 206.3 673 C206.6 673.2 206.5 674.4 206.1 674.9 C205.6 675.3 204.4 675.5 203.5 675.6 C202.7 675.7 201.8 675.7 201 675.6 C200.1 675.5 199.2 675.2 198.4 674.9 C197.6 674.5 196.7 674.1 196.4 673.6 C196.2 673 196.4 671.8 196.8 671.7Z" fill="#ebcb80" stroke="#352e20" stroke-width="1.4" stroke-linejoin="round" stroke-linecap="round"/>
<path d="M211.5 610.8 C213.2 610.7 217.8 610 221.4 610.2 C225 610.4 229.7 611 233.1 612.2 C236.5 613.5 239.2 615.3 241.8 617.7 C244.5 620.1 246.9 623.4 249.1 626.5 C251.3 629.6 254 634.8 255 636.5 C254.1 636.3 251.6 636 249.9 635.5 C248.1 634.9 245.3 633.8 244.4 633.4 C244.5 632.8 245.2 631.2 244.9 629.8 C244.6 628.3 243.8 626.3 242.6 624.7 C241.3 623 239.3 620.9 237.5 619.7 C235.6 618.5 233.8 617.6 231.6 617.2 C229.4 616.8 225.5 617.3 224.3 617.4 C223.9 617.6 222.5 618.2 221.8 618.8 C221 619.4 220.2 620.6 219.9 621 C219.1 620.3 216.2 618.3 214.8 616.6 C213.4 614.9 212.1 611.8 211.5 610.8Z" fill="#ebcb80" stroke="#352e20" stroke-width="1.7" stroke-linejoin="round" stroke-linecap="round"/>
<path d="M211.5 610.8 C211.8 610 212.3 607.6 213.4 606 C214.4 604.5 216 602.7 217.7 601.3 C219.4 599.9 221.5 598.8 223.6 597.8 C225.7 596.8 227.8 596 230.2 595.5 C232.5 594.9 236.2 594.7 237.5 594.6 L239.3 596 C239.9 596.1 241.8 595.7 243.3 596.2 C244.8 596.6 247 597.5 248.4 598.7 C249.8 600 251.3 602.8 251.9 603.6 L253.9 604.1 C254.4 604.8 256.2 606.8 257.2 608.6 C258.1 610.4 259.1 612.7 259.7 614.8 C260.3 616.9 260.8 618.9 260.8 621 C260.9 623.1 260.6 625.6 260.1 627.6 C259.6 629.5 258.7 631.2 257.9 632.7 C257 634.2 255.5 635.8 255 636.5 C254 634.8 251.3 629.6 249.1 626.5 C246.9 623.4 244.5 620.1 241.8 617.7 C239.2 615.3 236.5 613.5 233.1 612.2 C229.7 611 225 610.4 221.4 610.2 C217.8 610 213.2 610.7 211.5 610.8Z" fill="#e6c372" stroke="#352e20" stroke-width="1.7" stroke-linejoin="round" stroke-linecap="round"/>
<path d="M236 597.6 L224.7 604.2 L228.7 604.9 L238.5 598.7" fill="none" stroke="#352e20" stroke-width="1.3" stroke-linejoin="round" stroke-linecap="round"/>
<path d="M251.2 604.6 L250.6 618.1 L253.1 619.5 L253.7 608.6" fill="none" stroke="#352e20" stroke-width="1.3" stroke-linejoin="round" stroke-linecap="round"/>
</g>
<circle cx="92" cy="232.7" r="50.3" fill="#fff"/>
<text class="num" x="92.6" y="258.2" clip-path="url(#one)" stroke="#000" stroke-width="1.2">1</text>
<rect x="4" y="145" width="544" height="580" fill="none" stroke="#20252c" stroke-width="2"/>
</g>

<!-- PANEL 2 -->
<g id="p2">
<rect x="684.5" y="145.3" width="544.5" height="581" fill="#b0bfcd"/>
<g clip-path="url(#c2)" id="p2art">
<path d="M684 206 L1229 627.5 L1229 727 L684 727Z" fill="#eeeeee"/>
<path d="M684 556.2 L905.5 727 L684 727Z" fill="url(#fr_g)"/>
<path d="M684 556.2 L905.5 727 L684 727Z" fill="url(#fr_g2)"/>
<path d="M687 453.4 L730.5 514.5 L741.1 550.9 L734 590.8 M701.1 421.7 L736.4 481.6 L748.1 516.8 L763.4 530.9 L773.9 530.9 L776.8 518 L770.4 502.7 L757.5 491 M743.4 454.6 L748.1 471 M781 482.8 L797.4 521.5 L813.9 568.5 L820.9 629.5 L830.3 655.4 L846.7 681.2 M820.9 514.5 L823.3 521.5 L867.9 592 L898.4 634.2 L909 678.9 M928.9 597.8 L947.7 643.6 L954.8 678.9 L968.9 728.2 M925.4 714.1 L930.1 724.7 M982.4 639.1 L986.4 648.5 L995.9 686.4 L1008 706.6 L1035 718.8 L1047.2 710.7 L1047.2 690.4" fill="none" stroke="#33363a" stroke-width="0.9" stroke-linejoin="round" stroke-linecap="round"/>
<path d="M684.5 406.9 L1096 726.5" fill="none" stroke="#2a2d31" stroke-width="1" stroke-linejoin="round" stroke-linecap="round"/>
<path d="M684 556.2 L906 727.4" fill="none" stroke="#20252c" stroke-width="2.2" stroke-linejoin="round" stroke-linecap="round"/>
<path d="M684 205.6 L1229 627.5" fill="none" stroke="#20252c" stroke-width="2.2" stroke-linejoin="round" stroke-linecap="round"/>
<path d="M686.3 209 V724.4 H1226.6 V628" fill="none" stroke="#fff" stroke-width="1.3" stroke-linejoin="round" stroke-linecap="round"/>
<path d="M1228.3 627 V726.2 H1096" fill="none" stroke="#20252c" stroke-width="2.6" stroke-linejoin="round" stroke-linecap="round"/>
<g filter="url(#blur6)" opacity="0.5"><path d="M797.6 424.9 L835.3 395.8 L879.9 430.9 L907.5 431.1 L912.1 433.6 L913.4 438.9 L926.4 447.2 L930.6 448.1 L935.2 454.7 L950.7 466.7 L954.8 467.4 L959.8 474.1 L971.7 485 L977 484.3 L981.7 489.4 L994.3 518.3 L1038.9 552.9 L1001 584.2 L958.7 548.4 L942.6 515.1 L939.5 511.6 L930.1 509.4 L927.4 502.1 L917.9 500.1 L915 492 L905.7 489.6 L902.1 481.8 L892.7 480.2 L888.7 472.8 L881.3 471.4 L879.3 462.6 L871.2 460.6 L844.2 459.2Z" fill="#8a8a8a"/></g>
<path d="M813.1 419.3 L850.8 390.2 L895.5 425.3 L923 425.5 L927.7 428.1 L929 433.3 L942 441.6 L946.2 442.5 L950.7 449.2 L966.3 461.2 L970.4 461.8 L975.4 468.5 L987.3 479.5 L992.6 478.7 L997.2 483.8 L1009.8 512.8 L1054.4 547.3 L1016.6 578.6 L974.3 542.9 L958.2 509.6 L955.1 506 L945.6 503.8 L943 496.6 L933.4 494.6 L930.5 486.5 L921.2 484 L917.7 476.3 L908.2 474.6 L904.2 467.3 L896.8 465.8 L894.8 457.1 L886.7 455.1 L859.7 453.6Z" fill="#e6d194" stroke="#2b2a22" stroke-width="1.9" stroke-linejoin="round" stroke-linecap="round"/>
<path d="M886.7 455.7 L894.8 457.7 L896.8 466.5 L904.2 467.9 L908.2 475.3 L917.7 476.9 L921.2 484.7 L930.5 487.2 L933.4 495.3 L943 497.3 L945.6 504.5 L955.1 506.7 L958.2 510.2 L958.2 505.1 L955.1 501.6 L945.6 499.4 L943 492.1 L933.4 490.1 L930.5 482 L921.2 479.6 L917.7 471.8 L908.2 470.2 L904.2 462.8 L896.8 461.4 L894.8 452.6 L886.7 450.6Z" fill="#f6e8c0"/>
<path d="M813.1 416 L850.8 386.9 L895.5 422 L859.7 450.3Z" fill="url(#h2_tl)"/>
<path d="M859.7 450.3 L895.5 422 L923 422.2 L886.7 451.7Z" fill="#d1ac53"/>
<path d="M886.7 451.7 L923 422.2 L927.7 424.8 L929 430 L942 438.3 L946.2 439.2 L950.7 445.9 L966.3 457.8 L970.4 458.5 L975.4 465.2 L987.3 476.2 L992.6 475.4 L997.2 480.5 L958.2 506.2 L955.1 502.7 L945.6 500.5 L943 493.3 L933.4 491.3 L930.5 483.2 L921.2 480.7 L917.7 472.9 L908.2 471.3 L904.2 464 L896.8 462.5 L894.8 453.7 L886.7 451.7Z" fill="url(#h2_bd)"/>
<path d="M958.2 506.2 L997.2 480.5 L1009.8 509.5 L974.3 539.5Z" fill="#fbf1d6"/>
<path d="M974.3 539.5 L1009.8 509.5 L1054.4 544 L1016.6 575.3Z" fill="url(#h2_tr)"/>
<path d="M895.5 422 L859.7 450.3" fill="none" stroke="#4a3f22" stroke-width="1.1" stroke-linejoin="round" stroke-linecap="round"/>
<path d="M921.8 423.2 L886.7 451.7" fill="none" stroke="#4a3f22" stroke-width="1.1" stroke-linejoin="round" stroke-linecap="round"/>
<path d="M994 479.2 L958.2 506.2" fill="none" stroke="#4a3f22" stroke-width="1.1" stroke-linejoin="round" stroke-linecap="round"/>
<path d="M1009.8 509.5 L974.3 539.5" fill="none" stroke="#4a3f22" stroke-width="1.1" stroke-linejoin="round" stroke-linecap="round"/>
<path d="M813.1 416 L850.8 386.9 L895.5 422 L923 422.2 L927.7 424.8 L929 430 L942 438.3 L946.2 439.2 L950.7 445.9 L966.3 457.8 L970.4 458.5 L975.4 465.2 L987.3 476.2 L992.6 475.4 L997.2 480.5 L1009.8 509.5 L1054.4 544 L1016.6 575.3 L974.3 539.5 L958.2 506.2 L955.1 502.7 L945.6 500.5 L943 493.3 L933.4 491.3 L930.5 483.2 L921.2 480.7 L917.7 472.9 L908.2 471.3 L904.2 464 L896.8 462.5 L894.8 453.7 L886.7 451.7 L859.7 450.3Z" fill="none" stroke="#2b2a22" stroke-width="1.9" stroke-linejoin="round" stroke-linecap="round"/>
<ellipse cx="854.9" cy="417.3" rx="7.8" ry="7.2" fill="#c7a34b" stroke="#2b2a22" stroke-width="1.9" transform="rotate(38 854.9 417.3)"/>
<ellipse cx="855.5" cy="418.4" rx="6" ry="5.4" fill="#9a9a9e" stroke="#2b2a22" stroke-width="0.9" transform="rotate(38 855.5 418.4)"/>
<ellipse cx="1013.9" cy="541.2" rx="7.8" ry="7.2" fill="#c7a34b" stroke="#2b2a22" stroke-width="1.9" transform="rotate(38 1013.9 541.2)"/>
<ellipse cx="1014.5" cy="542.3" rx="6" ry="5.4" fill="#9a9a9e" stroke="#2b2a22" stroke-width="0.9" transform="rotate(38 1014.5 542.3)"/>
<path d="M880.9 246.3 L909 247.2 L908.2 264.2 L906.9 281.6 L904.2 299 L899.8 316.4 L895.3 326.1 L893.7 336.7 L891.6 339.8 L889.2 338.6 L888.5 326.5 L883.8 316.4 L882.9 299 L882.4 281.6 L881.4 264.2Z" fill="#e6c472" stroke="#2e2a1e" stroke-width="1.7" stroke-linejoin="round" stroke-linecap="round"/>
<path d="M877.1 257.4 C880.1 256.7 887.7 257 893.5 255.5 C899.3 253.9 908.6 248.8 911.9 248.2 C915.2 247.6 916 249.9 913.1 251.8 C910.2 253.7 900.3 257.8 894.5 259.5 C888.7 261.2 881.2 261.9 878 261.9 C874.9 262 875.8 260.6 875.6 259.8 C875.5 259 874.1 258.1 877.1 257.4Z" fill="#ecce85" stroke="#2e2a1e" stroke-width="1.5" stroke-linejoin="round" stroke-linecap="round"/>
<path d="M880 271.9 C882.8 271 890.1 271.1 895.5 269 C900.8 266.9 909 260.3 911.9 259.3 C914.8 258.3 915.6 260.6 913.1 262.9 C910.5 265.2 901.8 270.7 896.4 273.1 C891.1 275.4 883.9 276.7 880.9 276.9 C878 277.2 878.9 275.4 878.7 274.6 C878.6 273.8 877.2 272.8 880 271.9Z" fill="#ecce85" stroke="#2e2a1e" stroke-width="1.5" stroke-linejoin="round" stroke-linecap="round"/>
<path d="M881.9 287.4 C884.4 286.6 891.1 286.3 895.5 285 C899.8 283.6 905.7 279.5 908 279.1 C910.3 278.8 911.1 281.1 909.2 282.7 C907.3 284.4 900.8 287.5 896.4 289 C892 290.5 885.5 291.8 882.9 291.9 C880.3 292 880.9 290.5 880.8 289.8 C880.6 289 879.5 288.2 881.9 287.4Z" fill="#ecce85" stroke="#2e2a1e" stroke-width="1.5" stroke-linejoin="round" stroke-linecap="round"/>
<path d="M880.9 305.7 C883.2 304.9 889.6 304.9 893.5 303.3 C897.5 301.8 902.6 297 904.6 296.6 C906.7 296.1 907.5 298.8 905.8 300.6 C904.1 302.4 898.5 305.8 894.5 307.4 C890.5 309 884.4 310.2 881.9 310.3 C879.5 310.4 879.9 308.9 879.8 308.2 C879.6 307.4 878.7 306.6 880.9 305.7Z" fill="#ecce85" stroke="#2e2a1e" stroke-width="1.5" stroke-linejoin="round" stroke-linecap="round"/>
<path d="M882.4 322.2 C884.3 321.5 889.3 321.5 892.6 320.3 C895.8 319 900 315.2 901.7 314.9 C903.5 314.6 904.3 316.9 902.9 318.5 C901.5 320.1 896.8 322.9 893.5 324.3 C890.3 325.7 885.4 326.7 883.4 326.7 C881.3 326.8 881.5 325.4 881.3 324.6 C881.2 323.8 880.5 322.9 882.4 322.2Z" fill="#ecce85" stroke="#2e2a1e" stroke-width="1.5" stroke-linejoin="round" stroke-linecap="round"/>
<path d="M866 238 C867.3 236.4 871.2 231 874.2 228.4 C877.2 225.7 880.6 223.5 883.8 222.1 C887.1 220.6 890.1 219.8 893.5 219.7 C896.9 219.5 900.5 219.8 904.2 221.1 C907.9 222.4 912 224.3 915.8 227.4 C919.6 230.6 925 237.9 926.9 240 C926 240.5 924.4 242.3 921.6 243.4 C918.7 244.4 914.2 245.6 910 246.3 C905.8 246.9 900.9 247.4 896.4 247.2 C891.9 247.1 886.9 246.2 882.9 245.3 C878.9 244.4 875.1 243.1 872.2 241.9 C869.4 240.7 867 238.7 866 238Z" fill="#e6c472" stroke="#2e2a1e" stroke-width="1.9" stroke-linejoin="round" stroke-linecap="round"/>
<path d="M877.6 238 C878.3 236.6 880.1 231.9 881.9 229.3 C883.8 226.8 887.6 223.7 888.7 222.6 M881.1 237.1 C881.8 235.7 883.5 231.4 885.3 228.9 C887.1 226.4 890.7 223.2 891.8 222.1 M877.6 238 L881.1 237.1" fill="none" stroke="#2e2a1e" stroke-width="1" stroke-linejoin="round" stroke-linecap="round"/>
<path d="M912.9 239 C912.5 237.6 911.9 232.9 910.9 230.3 C910 227.7 907.7 224.7 907.1 223.5 M916.4 238 C916.1 236.7 915.4 232.3 914.3 229.8 C913.3 227.3 910.8 224.2 910.2 223.1 M912.9 239 L916.4 238" fill="none" stroke="#2e2a1e" stroke-width="1" stroke-linejoin="round" stroke-linecap="round"/>
<path d="M1033.4 342.3 L1061.5 343.2 L1060.7 360.2 L1059.4 377.6 L1056.7 395 L1052.3 412.4 L1047.8 422.1 L1046.2 432.7 L1044.1 435.8 L1041.7 434.6 L1041 422.5 L1036.3 412.4 L1035.4 395 L1034.9 377.6 L1033.9 360.2Z" fill="#e6c472" stroke="#2e2a1e" stroke-width="1.7" stroke-linejoin="round" stroke-linecap="round"/>
<path d="M1029.6 353.4 C1032.6 352.7 1040.2 353 1046 351.5 C1051.8 349.9 1061.1 344.8 1064.4 344.2 C1067.7 343.6 1068.5 345.9 1065.6 347.8 C1062.7 349.7 1052.8 353.8 1047 355.5 C1041.2 357.2 1033.7 357.9 1030.5 357.9 C1027.4 358 1028.3 356.6 1028.1 355.8 C1028 355 1026.6 354.1 1029.6 353.4Z" fill="#ecce85" stroke="#2e2a1e" stroke-width="1.5" stroke-linejoin="round" stroke-linecap="round"/>
<path d="M1032.5 367.9 C1035.3 367 1042.6 367.1 1048 365 C1053.3 362.9 1061.5 356.3 1064.4 355.3 C1067.3 354.3 1068.1 356.6 1065.6 358.9 C1063 361.2 1054.3 366.7 1048.9 369.1 C1043.6 371.4 1036.4 372.7 1033.4 372.9 C1030.5 373.2 1031.4 371.4 1031.2 370.6 C1031.1 369.8 1029.7 368.8 1032.5 367.9Z" fill="#ecce85" stroke="#2e2a1e" stroke-width="1.5" stroke-linejoin="round" stroke-linecap="round"/>
<path d="M1034.4 383.4 C1036.9 382.6 1043.6 382.3 1048 381 C1052.3 379.6 1058.2 375.5 1060.5 375.1 C1062.8 374.8 1063.6 377.1 1061.7 378.7 C1059.8 380.4 1053.3 383.5 1048.9 385 C1044.5 386.5 1038 387.8 1035.4 387.9 C1032.8 388 1033.4 386.5 1033.3 385.8 C1033.1 385 1032 384.2 1034.4 383.4Z" fill="#ecce85" stroke="#2e2a1e" stroke-width="1.5" stroke-linejoin="round" stroke-linecap="round"/>
<path d="M1033.4 401.7 C1035.7 400.9 1042.1 400.9 1046 399.3 C1050 397.8 1055.1 393 1057.1 392.6 C1059.2 392.1 1060 394.8 1058.3 396.6 C1056.6 398.4 1051 401.8 1047 403.4 C1043 405 1036.9 406.2 1034.4 406.3 C1032 406.4 1032.4 404.9 1032.3 404.2 C1032.1 403.4 1031.2 402.6 1033.4 401.7Z" fill="#ecce85" stroke="#2e2a1e" stroke-width="1.5" stroke-linejoin="round" stroke-linecap="round"/>
<path d="M1034.9 418.2 C1036.8 417.5 1041.8 417.5 1045.1 416.3 C1048.3 415 1052.5 411.2 1054.2 410.9 C1056 410.6 1056.8 412.9 1055.4 414.5 C1054 416.1 1049.3 418.9 1046 420.3 C1042.8 421.7 1037.9 422.7 1035.9 422.7 C1033.8 422.8 1034 421.4 1033.8 420.6 C1033.7 419.8 1033 418.9 1034.9 418.2Z" fill="#ecce85" stroke="#2e2a1e" stroke-width="1.5" stroke-linejoin="round" stroke-linecap="round"/>
<path d="M1018.5 334 C1019.8 332.4 1023.7 327 1026.7 324.4 C1029.7 321.7 1033.1 319.5 1036.3 318.1 C1039.6 316.6 1042.6 315.8 1046 315.7 C1049.4 315.5 1053 315.8 1056.7 317.1 C1060.4 318.4 1064.5 320.3 1068.3 323.4 C1072.1 326.6 1077.5 333.9 1079.4 336 C1078.5 336.5 1076.9 338.3 1074.1 339.4 C1071.2 340.4 1066.7 341.6 1062.5 342.3 C1058.3 342.9 1053.4 343.4 1048.9 343.2 C1044.4 343.1 1039.4 342.2 1035.4 341.3 C1031.4 340.4 1027.6 339.1 1024.7 337.9 C1021.9 336.7 1019.5 334.7 1018.5 334Z" fill="#e6c472" stroke="#2e2a1e" stroke-width="1.9" stroke-linejoin="round" stroke-linecap="round"/>
<path d="M1030.1 334 C1030.8 332.6 1032.6 327.9 1034.4 325.3 C1036.3 322.8 1040.1 319.7 1041.2 318.6 M1033.6 333.1 C1034.3 331.7 1036 327.4 1037.8 324.9 C1039.6 322.4 1043.2 319.2 1044.3 318.1 M1030.1 334 L1033.6 333.1" fill="none" stroke="#2e2a1e" stroke-width="1" stroke-linejoin="round" stroke-linecap="round"/>
<path d="M1065.4 335 C1065 333.6 1064.4 328.9 1063.4 326.3 C1062.5 323.7 1060.2 320.7 1059.6 319.5 M1068.9 334 C1068.6 332.7 1067.9 328.3 1066.8 325.8 C1065.8 323.3 1063.3 320.2 1062.7 319.1 M1065.4 335 L1068.9 334" fill="none" stroke="#2e2a1e" stroke-width="1" stroke-linejoin="round" stroke-linecap="round"/>
<path d="M789.4 190.3 L810 190.3 L810 217.9 L829.8 217.9 L799.5 247.5 L769.5 217.9 L789.4 217.9Z" fill="#fff" stroke="#27303a" stroke-width="1.6" stroke-linejoin="round" stroke-linecap="round"/>
<path d="M1131.6 406 L1152.3 406 L1152.3 433.8 L1172.4 433.8 L1142 463 L1112.8 433.8 L1131.6 433.8Z" fill="#fff" stroke="#27303a" stroke-width="1.6" stroke-linejoin="round" stroke-linecap="round"/>
</g>
<circle cx="1137.3" cy="233.8" r="50.3" fill="#fff"/>
<text class="num" x="1137.3" y="259.3">2</text>
<rect x="684.5" y="145.3" width="544.5" height="581" fill="none" stroke="#20252c" stroke-width="2"/>
</g>

<!-- PANEL 3 -->
<g id="p3">
<rect x="4" y="821.5" width="544.5" height="580" fill="#b0bfcd"/>
<g clip-path="url(#c3)" id="p3art">
<g filter="url(#blur3)" opacity="0.7"><path d="M175.7 1017.3 L184.9 1017.3 L184.9 1103.1 L175.7 1098.3Z" fill="#5d6a7d"/></g>
<g filter="url(#blur4)" opacity="0.5"><path d="M231.1 1126.3 L245.7 1121.4 L243.3 1160.3 L231.1 1200 L222.6 1200 L233.6 1155.5Z" fill="#5d6a7d"/></g>
<path d="M184.4 1014.8 L264.7 1014.8 L264.7 1097.1 C264.2 1099.1 263.5 1105.8 261.6 1109.2 C259.6 1112.7 256.5 1115.4 253 1117.7 C249.6 1120.1 244.9 1122 240.9 1123.3 C236.8 1124.7 234 1125.7 228.7 1125.8 C223.4 1125.8 215.3 1125.4 209.2 1123.8 C203.2 1122.3 196.4 1119.4 192.2 1116.5 C188 1113.7 185.5 1109.6 183.9 1106.8 C182.4 1103.9 183.1 1100.7 183 1099.5 L183 1016.3Z" fill="#fff" stroke="#20252c" stroke-width="1.6" stroke-linejoin="round" stroke-linecap="round"/>
<ellipse cx="228.7" cy="1089.3" rx="12.2" ry="12.2" fill="#fff" stroke="#5a5f66" stroke-width="0.8"/>
<ellipse cx="229.9" cy="1089.8" rx="9.7" ry="9.7" fill="#56575b" stroke="#2b2b2b" stroke-width="1"/>
<path d="M227.5 1069.1 L255 1055.2" fill="none" stroke="#595d63" stroke-width="3.2" stroke-linejoin="round" stroke-linecap="round"/>
<path d="M227.5 1069.1 L255 1055.2" fill="none" stroke="#a3a6aa" stroke-width="1.8" stroke-linejoin="round" stroke-linecap="round"/>
<path d="M248.2 1087.8 L274.9 1073.9" fill="none" stroke="#595d63" stroke-width="3.2" stroke-linejoin="round" stroke-linecap="round"/>
<path d="M248.2 1087.8 L274.9 1073.9" fill="none" stroke="#a3a6aa" stroke-width="1.8" stroke-linejoin="round" stroke-linecap="round"/>
<path d="M227.5 1108.7 L255 1095.1" fill="none" stroke="#595d63" stroke-width="3.2" stroke-linejoin="round" stroke-linecap="round"/>
<path d="M227.5 1108.7 L255 1095.1" fill="none" stroke="#a3a6aa" stroke-width="1.8" stroke-linejoin="round" stroke-linecap="round"/>
<path d="M-2.4 1019.2 C-1.2 1019.3 2 1019.5 4.9 1019.7 C7.7 1019.9 10.7 1019.2 14.6 1020.4 C18.5 1021.6 19.7 1028.9 28 1027 C36.3 1025.1 57 1011.7 64.5 1009 C72 1006.3 69.1 1009.6 73 1010.7 C76.8 1011.8 81.7 1015.8 87.6 1015.5 C93.5 1015.3 102.6 1010.1 108.3 1009.5 C113.9 1008.9 117 1010.5 121.7 1011.9 C126.3 1013.3 130.2 1014.9 136.3 1018 C142.3 1021 152.5 1027.5 158.2 1030.1 C163.8 1032.8 165.5 1033.4 170.3 1033.8 C175.2 1034.2 181.3 1031.4 187.3 1032.6 C193.4 1033.8 201.7 1039.1 206.8 1041.1 C211.9 1043.1 215.3 1043.3 217.8 1044.7 C220.2 1046.2 221 1047.6 221.4 1049.6 C221.8 1051.6 221.4 1054.7 220.2 1056.9 C219 1059.1 216.7 1061.4 214.1 1063 C211.5 1064.6 208.4 1065.8 204.4 1066.6 C200.3 1067.5 195.5 1066.6 189.8 1067.9 C184.1 1069.1 177.6 1072.1 170.3 1073.9 C163 1075.8 150 1078 146 1078.8 L143.6 1080.5 L119.2 1106.8 L88.8 1140.9 L147.2 1178.6 L172.7 1173.7 C175 1167.4 184.3 1145.5 186.1 1136 C188 1126.5 183.5 1122.2 183.7 1116.5 C183.9 1110.8 185.5 1106.4 187.3 1101.9 C189.2 1097.5 191.6 1093.4 194.6 1089.8 C197.7 1086.1 202.4 1081.8 205.6 1080 C208.8 1078.2 211.5 1078.2 214.1 1078.8 C216.7 1079.4 219.4 1080.6 221.4 1083.7 C223.4 1086.7 224.7 1091.6 226.3 1097.1 C227.9 1102.5 229.7 1110 231.1 1116.5 C232.6 1123 234.4 1129.5 234.8 1136 C235.2 1142.5 234.4 1149 233.6 1155.5 C232.8 1161.9 231.5 1167.5 229.9 1174.9 C228.3 1182.3 224.9 1195.8 223.8 1200 C223.4 1202.4 222.9 1206.7 221.3 1214.6 C219.6 1222.5 218.5 1238.4 213.8 1247.3 C209.1 1256.2 200.5 1261.2 193.1 1268.1 C185.6 1275 173.3 1285.4 169.3 1288.9 L127.7 1324.5 L123.3 1345.3 L109.9 1400.3 L106.9 1413.6 L-3 1413.6Z" fill="#f7e7da" stroke="#20252c" stroke-width="1.9" stroke-linejoin="round" stroke-linecap="round"/>
<path d="M6.1 1039.9 C10.7 1037.2 24.3 1029.1 34.1 1024.1 C43.8 1019 59.4 1011.9 64.5 1009.5 M7.3 1070.3 C15.4 1065.4 39.3 1051 56 1041.1 C72.6 1031.2 98.5 1015.8 107.1 1010.7 M32.8 1095.1 C33.9 1095.4 31 1102 38.9 1097.1 C46.8 1092.1 66.1 1075.8 80.3 1065.4 C94.5 1055.1 115.6 1040.7 124.1 1035 C132.6 1029.3 127.7 1032.3 131.4 1031.4 C135 1030.5 141.5 1029.9 146 1029.7 C150.4 1029.5 156.1 1030.1 158.2 1030.1 M37.7 1111.7 L45 1104.4 M68.1 1012.4 L71.8 1016.8 M109.5 1013.1 L114.4 1019.2 M131.4 1036.2 L136.3 1044.7 M135 1035 L139.9 1042.3 M143.6 1072.7 L147.2 1078.8 M211.7 1084.9 L213.6 1097.1 M217.8 1083.7 L222.6 1094.6 M223.8 1145.7 L228.7 1148.2 M225.1 1142.1 L227.5 1143.3" fill="none" stroke="#20252c" stroke-width="1.1" stroke-linejoin="round" stroke-linecap="round"/>
<path d="M303.7 930 L320.8 942.1 L304.2 966.9 L320.3 979.6 L275.5 986.9 L268.2 941.6 L285.7 954.3Z" fill="#fff" stroke="#27303a" stroke-width="2" stroke-linejoin="round" stroke-linecap="round"/>
<path d="M348.1 1005.6 C350 1005.8 355.7 1005.4 359.5 1006.7 C363.3 1008.1 367.2 1010.7 370.8 1013.5 C374.4 1016.4 379.4 1022.1 381.1 1023.8 L402.6 1009 C403.8 1007.5 408.3 1002.9 409.4 999.9 C410.6 996.9 409.4 992.3 409.4 990.8 L416.3 986.3 C420 984 428.4 979.1 439 972.7 C449.6 966.2 470 953 479.8 947.7 C489.7 942.4 491.2 942.8 498 940.9 C504.8 939 514.3 936.9 520.7 936.3 C527.1 935.8 531.9 936.5 536.6 937.5 C541.3 938.4 545.3 940.5 549.1 942 C552.9 943.5 557.6 945.8 559.3 946.6 L559.3 992 C557.6 992.5 554 993.3 549.1 995.4 C544.2 997.5 534.9 1001.1 529.8 1004.5 C524.7 1007.9 520.9 1011.7 518.4 1015.8 C516 1020 515 1024.9 515 1029.4 C515 1034 516.4 1038.5 518.4 1043.1 C520.5 1047.6 522.4 1053.5 527.5 1056.7 C532.6 1059.9 543.8 1061.2 549.1 1062.4 C554.4 1063.6 557.6 1063.7 559.3 1064 L557.7 1387.6 C556.2 1384.5 551.6 1378.9 548.6 1369.4 C545.6 1359.9 543.3 1346.6 539.5 1330.6 C535.7 1314.7 530.4 1293.4 525.8 1273.7 C521.3 1253.9 516.7 1229.2 512.1 1212.1 C507.6 1195.1 503 1182.9 498.5 1171.1 C493.9 1159.4 489.4 1149.1 484.8 1141.5 C480.3 1133.9 474.4 1130.5 471.1 1125.6 C467.9 1120.6 465.3 1116.5 465.4 1111.9 C465.6 1107.3 471.1 1100.5 472.3 1098.2 C472.3 1098.6 472 1101.7 472.3 1100.7 C472.5 1099.7 473.8 1095.3 474 1092.2 C474.1 1089.1 474 1085.7 473.1 1082 C472.3 1078.3 471 1073.5 468.8 1070.1 C466.7 1066.6 463.7 1063.7 460.3 1061.5 C456.9 1059.4 452.4 1058 448.4 1057.3 C444.4 1056.6 440.7 1056.6 436.5 1057.3 C432.2 1058 426.8 1059.4 422.9 1061.5 C418.9 1063.7 414.9 1067.8 412.6 1070.1 C410.4 1072.3 409.8 1074.3 409.2 1075.2 C409.9 1076.9 412.1 1082 413 1085.4 C413.8 1088.8 414.5 1092.2 414.3 1095.6 C414.1 1099 412.2 1104.1 411.8 1105.8 L407.5 1109.2 C404.7 1110.4 395.9 1113.8 390.5 1116 C385.1 1118.3 380 1120.6 375.2 1122.9 C370.3 1125.1 365.7 1127.7 361.5 1129.7 C357.4 1131.7 352.3 1133.9 350.5 1134.8 C349.2 1134.4 346.1 1134.5 342.8 1132.2 C339.5 1130 334.9 1125.6 330.9 1121.2 C326.9 1116.8 322.6 1111.8 319 1105.8 C315.3 1099.9 311.4 1092.2 308.7 1085.4 C306 1078.6 304.1 1071.8 302.8 1064.9 C301.4 1058.1 300.6 1050.2 300.6 1044.5 C300.6 1038.8 301.4 1034.4 302.8 1030.9 C304.1 1027.3 305.5 1025.8 308.7 1023.2 C312 1020.7 316 1018.4 322.4 1015.5 C328.7 1012.7 341.4 1007.8 347.1 1006.2 C352.7 1004.5 354.9 1005.8 356.4 1005.7Z" fill="#fff" stroke="#20252c" stroke-width="2.2" stroke-linejoin="round" stroke-linecap="round"/>
<path d="M342.8 1132.2 C344.1 1132.7 347.3 1135.2 350.5 1134.8 C353.6 1134.4 357.4 1131.7 361.5 1129.7 C365.7 1127.7 370.3 1125.1 375.2 1122.9 C380 1120.6 385.1 1118.3 390.5 1116 C395.9 1113.8 404 1110.9 407.5 1109.2 C411.1 1107.5 410.6 1108.1 411.8 1105.8 C412.9 1103.6 414.1 1099 414.3 1095.6 C414.5 1092.2 413.8 1088.8 413 1085.4 C412.1 1082 409.9 1076.9 409.2 1075.2 C407.8 1075.7 403.6 1076.9 400.7 1078.6 C397.9 1080.3 393.9 1082.5 392.2 1085.4 C390.5 1088.2 392.2 1092.2 390.5 1095.6 C388.8 1099 385.4 1102.4 382 1105.8 C378.6 1109.2 374.3 1113.5 370.1 1116 C365.8 1118.6 361.3 1119.4 356.4 1121.2 C351.6 1122.9 343.7 1125.4 341.1 1126.3Z" fill="#ccd4d2"/>
<path d="M409.2 1075.2 C409.8 1074.3 410.4 1072.3 412.6 1070.1 C414.9 1067.8 418.9 1063.7 422.9 1061.5 C426.8 1059.4 432.2 1058 436.5 1057.3 C440.7 1056.6 444.4 1056.6 448.4 1057.3 C452.4 1058 456.9 1059.4 460.3 1061.5 C463.7 1063.7 466.7 1066.6 468.8 1070.1 C471 1073.5 472.1 1081.4 473.1 1082 C474.1 1082.5 475.8 1077.2 474.8 1073.5 C473.8 1069.8 470.7 1063.5 467.1 1059.8 C463.6 1056.1 458.6 1052.9 453.5 1051.3 C448.4 1049.8 443.3 1049 436.5 1050.5 C429.7 1051.9 420.3 1056.6 412.6 1059.8 C405 1063.1 393.3 1067.5 390.5 1070.1 C387.7 1072.6 394.8 1074.3 395.6 1075.2Z" fill="#ccd4d2"/>
<path d="M472.3 1100.7 C472.5 1099.3 473.8 1095.3 474 1092.2 C474.1 1089.1 474 1085.7 473.1 1082 C472.3 1078.3 471 1073.5 468.8 1070.1 C466.7 1066.6 463.7 1063.7 460.3 1061.5 C456.9 1059.4 452.4 1058 448.4 1057.3 C444.4 1056.6 440.7 1056.6 436.5 1057.3 C432.2 1058 426.8 1059.4 422.9 1061.5 C418.9 1063.7 414.9 1067.8 412.6 1070.1 C410.4 1072.3 409.8 1074.3 409.2 1075.2 C409.9 1076.9 412.1 1082 413 1085.4 C413.8 1088.8 414.5 1092.2 414.3 1095.6 C414.1 1099 412.2 1104.1 411.8 1105.8 L407.5 1109.2 C404.7 1110.4 395.9 1113.8 390.5 1116 C385.1 1118.3 380 1120.6 375.2 1122.9 C370.3 1125.1 365.7 1127.7 361.5 1129.7 C357.4 1131.7 352.3 1133.9 350.5 1134.8 C349.2 1134.4 346.1 1134.5 342.8 1132.2 C339.5 1130 332.9 1123 330.9 1121.2" fill="none" stroke="#20252c" stroke-width="2.2" stroke-linejoin="round" stroke-linecap="round"/>
<path d="M353 1016.4 C353 1020.5 350.8 1033 353 1041.1 C355.3 1049.2 361.3 1058.1 366.6 1064.9 C372 1071.8 379.7 1078.7 385.4 1082 C391.1 1085.2 398.2 1084.1 400.7 1084.5 M358.1 1022.4 C358.4 1026.1 357.6 1037.4 359.8 1044.5 C362.1 1051.6 366.9 1058.6 371.8 1064.9 C376.6 1071.3 383.7 1079 388.8 1082.8 C393.9 1086.7 400.1 1087.1 402.4 1087.9 M364.1 1025.8 C364.5 1029.2 364.2 1039.7 366.6 1046.2 C369.1 1052.7 374 1059.6 378.6 1064.9 C383.1 1070.3 389.4 1076.2 393.9 1078.6 C398.4 1081 403.8 1079.3 405.8 1079.4 M368.4 1026.6 C368.9 1029.9 369.3 1040.1 371.8 1046.2 C374.2 1052.3 378.9 1058.4 382.8 1063.2 C386.8 1068.1 391.5 1073.3 395.6 1075.2 C399.7 1077 405.5 1074.5 407.5 1074.3 M371.8 1049.6 C375.2 1048.2 384.5 1045.5 392.2 1041.1 C399.9 1036.7 413.5 1026.2 417.7 1023.2 M373.5 1052.2 C375.7 1051.3 383.1 1049 387.1 1047.1 C391.1 1045.1 395.6 1041.4 397.3 1040.2 M375.2 1054.4 C376.3 1054 379.6 1053.2 382 1052.2 C384.4 1051.1 388.4 1048.6 389.6 1047.9 M344.5 1111.8 C347.6 1109.9 356.7 1104.3 363.2 1100.7 C369.8 1097.2 380.3 1092.2 383.7 1090.5 M353 1098.2 C355.3 1096.9 362.1 1092.8 366.6 1090.5 C371.2 1088.2 378 1085.5 380.3 1084.5 M362.4 1085.4 C363.7 1084.8 367.6 1082.7 370.1 1082 C372.5 1081.3 375.7 1081.3 376.9 1081.1 M392.2 1073.5 C393.6 1072.6 397.9 1070.1 400.7 1068.4 C403.6 1066.6 407.8 1064.1 409.2 1063.2 M395.6 1076.9 C397.6 1075.7 403.6 1072.3 407.5 1070.1 C411.5 1067.8 417.5 1064.4 419.4 1063.2 M399 1102.4 C400.1 1102.1 403.8 1101.6 405.8 1100.7 C407.8 1099.9 410.1 1097.9 410.9 1097.3 M392.2 1092.2 C393.6 1092.5 397.9 1094.2 400.7 1093.9 C403.6 1093.6 407.8 1091.1 409.2 1090.5 M473.4 1107.3 C474.6 1107.7 478 1109.6 480.3 1109.6 C482.5 1109.6 485.9 1107.7 487.1 1107.3 M474.6 1113 C475.7 1113.2 478.9 1114.7 481.4 1114.2 C483.9 1113.6 488 1110.4 489.4 1109.6 M483.7 1115.3 C486.1 1114 493.7 1111.9 498.5 1107.3 C503.2 1102.8 509.9 1091.2 512.1 1088 M484.8 1138.1 C487.1 1138.7 492.4 1142.8 498.5 1141.5 C504.6 1140.2 515.4 1135.3 521.3 1130.1 C527.1 1125 531.7 1114 533.8 1110.8 M499.6 1162 C501.7 1162.2 506.3 1165.1 512.1 1163.2 C518 1161.3 528.9 1155 534.9 1150.6 C541 1146.3 546.3 1139.2 548.6 1137 M508.7 1190.5 C510.8 1190.9 516.1 1194.1 521.3 1192.8 C526.4 1191.5 534.9 1185.4 539.5 1182.5 C544 1179.7 547.1 1176.8 548.6 1175.7 M514.4 1216.7 C515.9 1217.3 519.4 1220.7 523.5 1220.1 C527.7 1219.6 535.3 1215.2 539.5 1213.3 C543.7 1211.4 547.1 1209.5 548.6 1208.7 M521.3 1246.3 C522.8 1246.9 527 1250.1 530.4 1249.7 C533.8 1249.4 538.7 1245.6 541.8 1244 C544.8 1242.5 547.5 1241.2 548.6 1240.6" fill="none" stroke="#30353b" stroke-width="0.9" stroke-linejoin="round" stroke-linecap="round"/>
</g>
<circle cx="89.5" cy="906.7" r="50.3" fill="#fff"/>
<text class="num" x="89.4" y="933.2">3</text>
<rect x="4" y="821.5" width="544.5" height="580" fill="none" stroke="#20252c" stroke-width="2"/>
</g>

<!-- PANEL 4 -->
<g id="p4">
<rect x="683" y="821.5" width="544.5" height="580" fill="#b0bfcd"/>
<g clip-path="url(#c4)" id="p4art">
<path d="M674.2 1386.6 C675.7 1384.6 679.6 1379.8 683.5 1374.9 C687.4 1370 692.3 1364.7 697.5 1357.4 C702.8 1350.1 709.7 1340.3 715 1331.1 C720.4 1321.8 725.7 1310.7 729.6 1301.9 C733.5 1293.1 736.7 1286.3 738.4 1278.5 C740.1 1270.8 739.1 1262 739.9 1255.2 C740.6 1248.4 741.1 1243 742.8 1237.7 C744.5 1232.3 746.9 1227.9 750.1 1223.1 C753.2 1218.2 757.6 1212.6 761.8 1208.5 C765.9 1204.3 772.7 1200 774.9 1198.2 L780.7 1153 L788.6 1097.5 C790.5 1096.9 795.2 1095.1 799.7 1094 C804.2 1092.9 810.9 1091.4 815.8 1091.1 C820.6 1090.8 826.7 1092.1 828.9 1092.3 L1014.7 1123.2 C1015.1 1123.9 1017 1126.6 1017.4 1127.3 L1016.1 1145.3 L1009.2 1204.7 C1009.2 1204.9 1008.5 1206.6 1009.2 1206.1 C1009.8 1205.5 1011.9 1201.9 1013.3 1201.2 C1014.7 1200.5 1016.2 1200.9 1017.4 1201.9 C1018.7 1203 1020 1204 1020.9 1207.4 C1021.8 1210.9 1021.9 1218 1023 1222.6 C1024 1227.2 1026.1 1230.7 1027.1 1235.1 C1028.2 1239.5 1029 1244.3 1029.2 1248.9 C1029.4 1253.5 1029.3 1258.1 1028.5 1262.7 C1027.7 1267.3 1025.7 1272 1024.4 1276.5 C1023 1281.1 1020.9 1287.8 1020.2 1290.1 C1018 1294.5 1010.9 1309.4 1007 1316.5 C1003.1 1323.6 998.5 1329.9 996.8 1332.6 L986.6 1401.2 L986.6 1430.4 L674.2 1430.4Z" fill="#fff" stroke="#20252c" stroke-width="1.8" stroke-linejoin="round" stroke-linecap="round"/>
<path d="M801.2 1100.4 L984.3 1134.9 L1010.5 1129.4 M984.3 1134.9 L981.5 1153.6 L971.8 1228.2 L969.1 1251.7 M788.6 1098.1 L773.4 1231.8 M770.5 1239.1 C771.5 1237.4 773.4 1232.6 776.4 1228.9 C779.3 1225.3 784.6 1219.6 788 1217.2 C791.4 1214.9 794.7 1214.4 796.8 1214.9 C798.8 1215.4 800 1217.8 800.3 1220.1 C800.5 1222.5 800.3 1225 798.2 1228.9 C796.2 1232.8 790.7 1239.1 788 1243.5 C785.4 1247.9 783.2 1250.8 782.2 1255.2 C781.2 1259.6 783.2 1264.9 782.2 1269.8 C781.2 1274.6 779.3 1279.5 776.4 1284.4 C773.4 1289.2 767.8 1295.3 764.7 1299 C761.5 1302.6 758.6 1305.1 757.4 1306.3 M757.4 1306.3 C757.6 1309 759.6 1316.3 758.8 1322.3 C758.1 1328.4 754.5 1335.5 753 1342.8 C751.5 1350.1 751.5 1356.4 750.1 1366.1 C748.6 1375.9 745.2 1395.3 744.2 1401.2 M758.8 1231.8 L767.6 1239.1 L773.4 1240.6 M764.7 1227.4 L772 1236.2 M757.4 1250.8 L761.8 1243.5 M845 1401.2 C848.6 1397.8 859.3 1389.5 866.9 1380.7 C874.4 1372 882.9 1359.8 890.2 1348.6 C897.5 1337.4 904.8 1324.8 910.7 1313.6 C916.5 1302.4 921.8 1291.2 925.3 1281.5 C928.7 1271.7 928.2 1262 931.1 1255.2 C934 1248.4 938.4 1245.9 942.8 1240.6 C947.2 1235.2 953.7 1227 957.4 1223.1 C961 1219.2 962.7 1217.7 964.7 1217.2 C966.6 1216.7 968.1 1217.7 969.1 1220.1 C970 1222.6 970.8 1227.9 970.5 1231.8 C970.3 1235.7 968.8 1239.6 967.6 1243.5 C966.4 1247.4 965.2 1251.3 963.2 1255.2 C961.3 1259.1 957.1 1264.9 955.9 1266.9 M934 1401.2 C936 1397.8 941.8 1387.5 945.7 1380.7 C949.6 1373.9 953 1366.6 957.4 1360.3 C961.8 1354 966.6 1348.1 972 1342.8 C977.3 1337.4 985.4 1329.9 989.5 1328.2 C993.6 1326.5 995.6 1331.8 996.8 1332.6 M971.8 1251.7 C972.8 1248.9 975.8 1242.4 977.4 1235.1 C979 1227.7 980.1 1214.4 981.5 1207.4 C982.9 1200.5 984.3 1196.3 985.7 1193.6 C987 1191 988.3 1191.1 989.8 1191.6 C991.3 1192 993.6 1192.6 994.6 1196.4 C995.7 1200.2 996.1 1208.8 996 1214.4 C995.9 1219.9 995.2 1224.3 994 1229.6 C992.7 1234.8 990.3 1240.6 988.4 1246.1 C986.6 1251.7 984.3 1258 982.9 1262.7 C981.5 1267.4 980.6 1272.5 980.1 1274.5 M995.3 1190.9 C996.4 1189.8 999.7 1185.1 1001.6 1184.6 C1003.4 1184.2 1005.1 1185.5 1006.4 1188.1 C1007.7 1190.7 1008.9 1196.2 1009.2 1200.5 C1009.4 1204.9 1008.8 1207.9 1007.8 1214.4 C1006.7 1220.8 1004.8 1229.8 1002.9 1239.2 C1001.1 1248.7 997.8 1265.7 996.7 1271 M1021.6 1228.2 C1021.1 1231.6 1020.3 1242 1018.8 1248.9 C1017.3 1255.8 1013.6 1266.2 1012.6 1269.6 M954.5 1360.3 L953 1383.6 M955.9 1266.9 L969.1 1252.3 M960.8 1242 L968.4 1239.9 M960 1245.9 L967.2 1243.8 M959.1 1249.7 L965.9 1247.7 M958.3 1253.6 L964.7 1251.5 M957.5 1257.5 L963.4 1255.4 M956.6 1261.3 L962.2 1259.3 M955.8 1265.2 L960.9 1263.1" fill="none" stroke="#2a2e34" stroke-width="0.9" stroke-linejoin="round" stroke-linecap="round"/>
<path d="M879.5 1181.2 L947.1 953.1 L1074.9 991 L1109.3 1119.8Z" fill="#ececec"/>
<g clip-path="url(#conecl)"><path d="M788.6 1097.5 C790.5 1096.9 795.2 1095.1 799.7 1094 C804.2 1092.9 810.9 1091.4 815.8 1091.1 C820.6 1090.8 826.7 1092.1 828.9 1092.3 L1014.7 1123.2 C1015.1 1123.9 1017 1126.6 1017.4 1127.3 L1016.1 1145.3 L1009.2 1204.7" fill="none" stroke="#3a3f45" stroke-width="1.4" stroke-linejoin="round" stroke-linecap="round"/><path d="M801.2 1100.4 L984.3 1134.9 L1010.5 1129.4 M984.3 1134.9 L981.5 1153.6 L971.8 1228.2" fill="none" stroke="#3a3f45" stroke-width="0.9" stroke-linejoin="round" stroke-linecap="round"/></g>
<path d="M947.1 953.1 L879.5 1181.2 L1109.3 1119.8" fill="none" stroke="#20252c" stroke-width="1.7" stroke-linejoin="round" stroke-linecap="round"/>
<circle cx="1074.9" cy="991" r="133.3" fill="url(#circ4)" stroke="#2c3138" stroke-width="1.1"/>
<g filter="url(#blur4)" opacity="0.4"><path d="M975.2 973.9 L1013.5 967.6 L1036.7 973 L1043.9 978.3 L1099.2 964.9 L1115.2 948.9 L1158.1 943.5 L1158.9 948.9 L1113.4 956 L1099.2 972.1 L1043.9 986.4 L1013.5 979.2 L976.1 982.8Z" fill="#777"/></g>
<path d="M974.3 973.5 L1012.6 966.7 L1036.7 971.2 L1037.1 973.9 L1012.6 969.4 L974.6 976Z" fill="#f3e3b4" stroke="#40382a" stroke-width="0.8" stroke-linejoin="round" stroke-linecap="round"/>
<path d="M1101.9 960.5 L1116.1 945.7 L1158.1 940.9 L1159.5 907.8 L1158.1 905.7 L1159.8 907.5 L1160.2 942.1 L1117 948 L1102.7 962.8Z" fill="#f5e8c3" stroke="#40382a" stroke-width="0.8" stroke-linejoin="round" stroke-linecap="round"/>
<path d="M975.2 937.3 L1013.5 930.1 L1012.6 966.7 L974.3 973.5Z" fill="#dfbc66" stroke="#40382a" stroke-width="1.1" stroke-linejoin="round" stroke-linecap="round"/>
<path d="M1013.5 930.1 L1039.4 938.2 L1036.7 971.2 L1012.6 966.7Z" fill="url(#h4a)" stroke="#40382a" stroke-width="1.1" stroke-linejoin="round" stroke-linecap="round"/>
<path d="M1039.4 938.2 L1042.1 937.3 L1057.2 934.6 L1057.4 932.8 L1062.6 932.5 L1062.8 933.9 L1081.3 931.4 L1081.5 929.6 L1084.9 929.4 L1085.3 931 L1101 928.4 L1102.7 926.6 L1103.1 928.4 L1101.9 960.5 L1096.5 964.9 L1089.4 962.8 L1084.9 968.5 L1077.8 964.9 L1074.2 970.3 L1067.9 966.7 L1063.5 972.4 L1057.2 968.5 L1052.8 973.9 L1047.4 970.3 L1043 975.6 L1036.7 971.2Z" fill="url(#h4b)" stroke="#40382a" stroke-width="1.1" stroke-linejoin="round" stroke-linecap="round"/>
<path d="M1103.1 928.4 L1117 912.3 L1116.1 945.7 L1101.9 960.5Z" fill="#fbf3dc" stroke="#40382a" stroke-width="1.1" stroke-linejoin="round" stroke-linecap="round"/>
<path d="M1117 912.3 L1158.1 905.7 L1158.1 940.9 L1116.1 945.7Z" fill="url(#h4c)" stroke="#40382a" stroke-width="1.1" stroke-linejoin="round" stroke-linecap="round"/>
<ellipse cx="993.9" cy="950.7" rx="6" ry="6" fill="#d9b65f" stroke="#40382a" stroke-width="1.3"/>
<ellipse cx="994.6" cy="951.4" rx="4.3" ry="4.3" fill="#f2f2f2" stroke="#40382a" stroke-width="0.8"/>
<ellipse cx="1137.9" cy="924.3" rx="6.3" ry="6.3" fill="#d9b65f" stroke="#40382a" stroke-width="1.3"/>
<ellipse cx="1138.6" cy="925" rx="4.6" ry="4.6" fill="#f2f2f2" stroke="#40382a" stroke-width="0.8"/>
<g filter="url(#blur3)" opacity="0.35"><path d="M1095.6 986.4 C1096.3 985.5 1097.2 1005.7 1097.4 1014.9 C1097.5 1024.1 1097.7 1033.9 1096.5 1041.7 C1095.3 1049.4 1093.4 1055.6 1090.3 1061.3 C1087.1 1066.9 1078.7 1077.3 1077.8 1075.6 C1076.9 1073.8 1082.4 1059.8 1084.9 1050.6 C1087.4 1041.4 1091.1 1031 1092.9 1020.3 C1094.7 1009.5 1094.9 987.2 1095.6 986.4Z" fill="#888"/></g>
<path d="M1041.2 990.8 L1086.7 982.4 C1087.4 982.7 1090.1 983 1091.1 984.2 C1092.2 985.5 1092.6 989 1092.9 989.9 L1092 1014.9 L1093.1 1020.3 C1093 1023.5 1093.1 1034.2 1092.4 1039.9 C1091.7 1045.5 1090.7 1049.7 1088.8 1054.2 C1087 1058.6 1084.4 1063.1 1081.3 1066.6 C1078.3 1070.2 1074.6 1073.6 1070.6 1075.6 C1066.6 1077.6 1060.8 1078.8 1057.2 1078.6 C1053.7 1078.4 1052 1076.4 1049.2 1074.1 C1046.4 1071.8 1042.4 1068.2 1040.3 1064.9 C1038.2 1061.5 1037.3 1058 1036.7 1054.2 C1036.1 1050.3 1036.7 1043.7 1036.7 1041.7 L1041.2 990.8Z" fill="#fff" stroke="#33373d" stroke-width="1.1" stroke-linejoin="round" stroke-linecap="round"/>
<path d="M1087 982.8 L1088.8 1014.9 C1088.8 1017.3 1089.1 1024.1 1088.5 1029.2 C1087.8 1034.2 1086.7 1040.5 1084.9 1045.2 C1083.1 1050 1080.7 1053.9 1077.8 1057.7 C1074.8 1061.6 1070.9 1065.8 1067.1 1068.4 C1063.2 1071.1 1057.5 1073.2 1054.6 1073.8 C1051.6 1074.3 1050.1 1072 1049.2 1071.6 M1088.8 1018.5 C1088.6 1021.7 1088.7 1032.1 1087.8 1038.1 C1086.8 1044 1085.4 1049.5 1083.1 1054.2 C1080.9 1058.8 1077.8 1062.5 1074.2 1065.8 C1070.6 1069 1065.3 1072.1 1061.7 1073.8 C1058.1 1075.4 1054.3 1075.3 1052.8 1075.6" fill="none" stroke="#20252c" stroke-width="0.8" stroke-linejoin="round" stroke-linecap="round"/>
<ellipse cx="1057.8" cy="1048.8" rx="7.7" ry="7.7" fill="#fff" stroke="#33373d" stroke-width="1"/>
<ellipse cx="1058.3" cy="1049.3" rx="5.3" ry="5.3" fill="#f4f4f4" stroke="#33373d" stroke-width="0.8"/>
<path d="M1043 1022 L1057.2 1034.2" fill="none" stroke="#33373d" stroke-width="2.9" stroke-linejoin="round" stroke-linecap="round"/>
<path d="M1043 1022 L1057.2 1034.2" fill="none" stroke="#fff" stroke-width="1.5" stroke-linejoin="round" stroke-linecap="round"/>
<path d="M1059.9 1033.6 L1072.8 1046.1" fill="none" stroke="#33373d" stroke-width="2.9" stroke-linejoin="round" stroke-linecap="round"/>
<path d="M1059.9 1033.6 L1072.8 1046.1" fill="none" stroke="#fff" stroke-width="1.5" stroke-linejoin="round" stroke-linecap="round"/>
<path d="M1031.4 1038.1 L1043.9 1049.7" fill="none" stroke="#33373d" stroke-width="2.9" stroke-linejoin="round" stroke-linecap="round"/>
<path d="M1031.4 1038.1 L1043.9 1049.7" fill="none" stroke="#fff" stroke-width="1.5" stroke-linejoin="round" stroke-linecap="round"/>
<path d="M1042.1 1053.3 L1054.6 1064" fill="none" stroke="#33373d" stroke-width="2.9" stroke-linejoin="round" stroke-linecap="round"/>
<path d="M1042.1 1053.3 L1054.6 1064" fill="none" stroke="#fff" stroke-width="1.5" stroke-linejoin="round" stroke-linecap="round"/>
<path d="M1135.8 999.7 L1151.8 999.7 L1151.8 1019.9 L1166.6 1019.9 L1143.8 1041.7 L1122 1019.9 L1135.8 1019.9Z" fill="#fff" stroke="#27303a" stroke-width="1.5" stroke-linejoin="round" stroke-linecap="round"/>
<path d="M1082.3 1248.2 L1100.6 1253.4 L1094 1278.2 L1111.9 1283.3 L1077.2 1303 L1057.5 1268.3 L1075.8 1273.4Z" fill="#fff" stroke="#27303a" stroke-width="1.8" stroke-linejoin="round" stroke-linecap="round"/>
</g>
<circle cx="790.3" cy="932.9" r="50.3" fill="#fff"/>
<text class="num" x="787.2" y="956.9">4</text>
<rect x="683" y="821.5" width="544.5" height="580" fill="none" stroke="#20252c" stroke-width="2"/>
<path d="M682 1401.5 H987 M683 1377 V1402.5" stroke="#fff" stroke-width="2.6" fill="none"/>
<path d="M683.2 1376 V1402 H988" stroke="#55595e" stroke-width="1.1" fill="none"/>
</g>

<!-- CAPTIONS -->
<g class="cap">
<text x="107" y="761" textLength="305.5" lengthAdjust="spacing">Art Hanging Toolkit</text>
<text x="761.5" y="761.3" textLength="376" lengthAdjust="spacing">Screw Hook into Frame</text>
<text x="61.8" y="1438.6" textLength="394" lengthAdjust="spacing">Hammer Hanger to Wall</text>
<text x="783.5" y="1438.8" textLength="333" lengthAdjust="spacing">Attach Art to Hanger</text>
</g>
</svg>
</body>
</html>
